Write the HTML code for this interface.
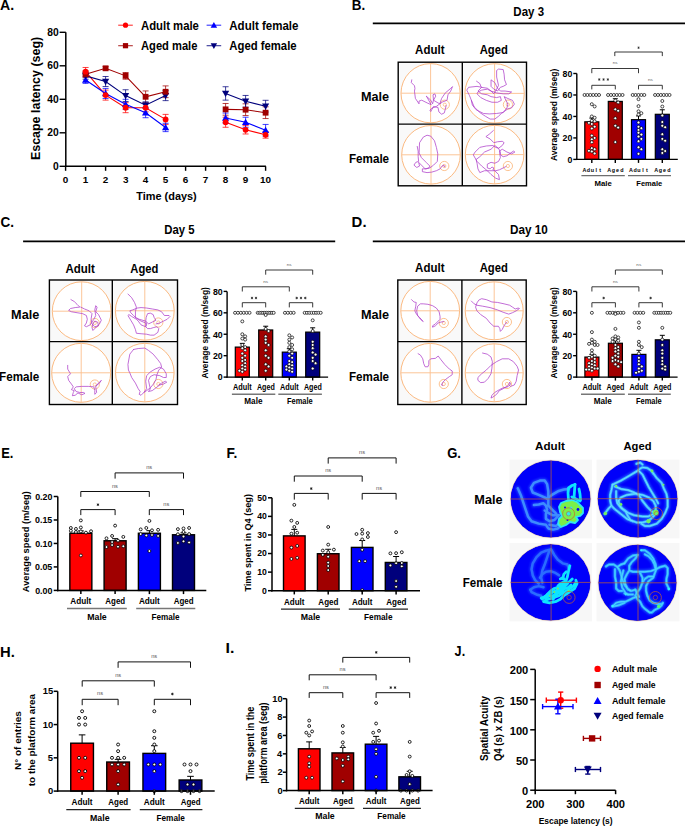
<!DOCTYPE html><html><head><meta charset="utf-8"><style>html,body{margin:0;padding:0;background:#fff;}svg{display:block;font-family:"Liberation Sans",sans-serif;}</style></head><body><svg width="685" height="826" viewBox="0 0 685 826"><rect width="685" height="826" fill="#fff"/><text x="-0.05" y="9.80" font-size="14.80" font-weight="700" textLength="14.14" lengthAdjust="spacingAndGlyphs" fill="#000" >A.</text>
<line x1="65.80" y1="32.30" x2="65.80" y2="167.00" stroke="#000" stroke-width="1.5" />
<line x1="65.10" y1="166.30" x2="265.90" y2="166.30" stroke="#000" stroke-width="1.5" />
<line x1="59.60" y1="166.30" x2="65.80" y2="166.30" stroke="#000" stroke-width="1.4" />
<text x="53.00" y="169.90" font-size="10.30" font-weight="700" textLength="5.73" lengthAdjust="spacingAndGlyphs" fill="#000" >0</text>
<line x1="59.60" y1="132.80" x2="65.80" y2="132.80" stroke="#000" stroke-width="1.4" />
<text x="47.28" y="136.40" font-size="10.30" font-weight="700" textLength="11.46" lengthAdjust="spacingAndGlyphs" fill="#000" >20</text>
<line x1="59.60" y1="99.30" x2="65.80" y2="99.30" stroke="#000" stroke-width="1.4" />
<text x="47.28" y="102.90" font-size="10.30" font-weight="700" textLength="11.46" lengthAdjust="spacingAndGlyphs" fill="#000" >40</text>
<line x1="59.60" y1="65.80" x2="65.80" y2="65.80" stroke="#000" stroke-width="1.4" />
<text x="47.28" y="69.40" font-size="10.30" font-weight="700" textLength="11.46" lengthAdjust="spacingAndGlyphs" fill="#000" >60</text>
<line x1="59.60" y1="32.30" x2="65.80" y2="32.30" stroke="#000" stroke-width="1.4" />
<text x="47.28" y="35.90" font-size="10.30" font-weight="700" textLength="11.46" lengthAdjust="spacingAndGlyphs" fill="#000" >80</text>
<line x1="65.60" y1="166.30" x2="65.60" y2="170.80" stroke="#000" stroke-width="1.4" />
<text x="62.85" y="182.60" font-size="9.90" font-weight="700" textLength="5.51" lengthAdjust="spacingAndGlyphs" fill="#000" >0</text>
<line x1="85.60" y1="166.30" x2="85.60" y2="170.80" stroke="#000" stroke-width="1.4" />
<text x="82.68" y="182.60" font-size="9.90" font-weight="700" textLength="5.51" lengthAdjust="spacingAndGlyphs" fill="#000" >1</text>
<line x1="105.60" y1="166.30" x2="105.60" y2="170.80" stroke="#000" stroke-width="1.4" />
<text x="102.88" y="182.60" font-size="9.90" font-weight="700" textLength="5.51" lengthAdjust="spacingAndGlyphs" fill="#000" >2</text>
<line x1="125.60" y1="166.30" x2="125.60" y2="170.80" stroke="#000" stroke-width="1.4" />
<text x="122.90" y="182.60" font-size="9.90" font-weight="700" textLength="5.51" lengthAdjust="spacingAndGlyphs" fill="#000" >3</text>
<line x1="145.60" y1="166.30" x2="145.60" y2="170.80" stroke="#000" stroke-width="1.4" />
<text x="142.80" y="182.60" font-size="9.90" font-weight="700" textLength="5.51" lengthAdjust="spacingAndGlyphs" fill="#000" >4</text>
<line x1="165.60" y1="166.30" x2="165.60" y2="170.80" stroke="#000" stroke-width="1.4" />
<text x="162.83" y="182.60" font-size="9.90" font-weight="700" textLength="5.51" lengthAdjust="spacingAndGlyphs" fill="#000" >5</text>
<line x1="185.60" y1="166.30" x2="185.60" y2="170.80" stroke="#000" stroke-width="1.4" />
<text x="182.85" y="182.60" font-size="9.90" font-weight="700" textLength="5.51" lengthAdjust="spacingAndGlyphs" fill="#000" >6</text>
<line x1="205.60" y1="166.30" x2="205.60" y2="170.80" stroke="#000" stroke-width="1.4" />
<text x="202.85" y="182.60" font-size="9.90" font-weight="700" textLength="5.51" lengthAdjust="spacingAndGlyphs" fill="#000" >7</text>
<line x1="225.60" y1="166.30" x2="225.60" y2="170.80" stroke="#000" stroke-width="1.4" />
<text x="222.85" y="182.60" font-size="9.90" font-weight="700" textLength="5.51" lengthAdjust="spacingAndGlyphs" fill="#000" >8</text>
<line x1="245.60" y1="166.30" x2="245.60" y2="170.80" stroke="#000" stroke-width="1.4" />
<text x="242.85" y="182.60" font-size="9.90" font-weight="700" textLength="5.51" lengthAdjust="spacingAndGlyphs" fill="#000" >9</text>
<line x1="265.60" y1="166.30" x2="265.60" y2="170.80" stroke="#000" stroke-width="1.4" />
<text x="260.01" y="182.60" font-size="9.90" font-weight="700" textLength="11.01" lengthAdjust="spacingAndGlyphs" fill="#000" >10</text>
<text x="136.29" y="199.90" font-size="11.70" font-weight="700" textLength="60.45" lengthAdjust="spacingAndGlyphs" fill="#000" >Time (days)</text>
<g transform="rotate(-90)"><text x="-160.11" y="39.50" font-size="12.60" font-weight="700" textLength="123.32" lengthAdjust="spacingAndGlyphs" fill="#000" >Escape latency (seg)</text></g>
<line x1="85.60" y1="67.48" x2="85.60" y2="75.85" stroke="#ff0000" stroke-width="1.0" opacity="0.75"/>
<line x1="82.60" y1="67.48" x2="88.60" y2="67.48" stroke="#ff0000" stroke-width="1.0" opacity="0.75"/>
<line x1="82.60" y1="75.85" x2="88.60" y2="75.85" stroke="#ff0000" stroke-width="1.0" opacity="0.75"/>
<line x1="105.60" y1="90.09" x2="105.60" y2="100.14" stroke="#ff0000" stroke-width="1.0" opacity="0.75"/>
<line x1="102.60" y1="90.09" x2="108.60" y2="90.09" stroke="#ff0000" stroke-width="1.0" opacity="0.75"/>
<line x1="102.60" y1="100.14" x2="108.60" y2="100.14" stroke="#ff0000" stroke-width="1.0" opacity="0.75"/>
<line x1="125.60" y1="102.65" x2="125.60" y2="112.70" stroke="#ff0000" stroke-width="1.0" opacity="0.75"/>
<line x1="122.60" y1="102.65" x2="128.60" y2="102.65" stroke="#ff0000" stroke-width="1.0" opacity="0.75"/>
<line x1="122.60" y1="112.70" x2="128.60" y2="112.70" stroke="#ff0000" stroke-width="1.0" opacity="0.75"/>
<line x1="145.60" y1="103.49" x2="145.60" y2="111.86" stroke="#ff0000" stroke-width="1.0" opacity="0.75"/>
<line x1="142.60" y1="103.49" x2="148.60" y2="103.49" stroke="#ff0000" stroke-width="1.0" opacity="0.75"/>
<line x1="142.60" y1="111.86" x2="148.60" y2="111.86" stroke="#ff0000" stroke-width="1.0" opacity="0.75"/>
<line x1="165.60" y1="114.38" x2="165.60" y2="124.43" stroke="#ff0000" stroke-width="1.0" opacity="0.75"/>
<line x1="162.60" y1="114.38" x2="168.60" y2="114.38" stroke="#ff0000" stroke-width="1.0" opacity="0.75"/>
<line x1="162.60" y1="124.43" x2="168.60" y2="124.43" stroke="#ff0000" stroke-width="1.0" opacity="0.75"/>
<line x1="225.60" y1="117.22" x2="225.60" y2="127.27" stroke="#ff0000" stroke-width="1.0" opacity="0.75"/>
<line x1="222.60" y1="117.22" x2="228.60" y2="117.22" stroke="#ff0000" stroke-width="1.0" opacity="0.75"/>
<line x1="222.60" y1="127.27" x2="228.60" y2="127.27" stroke="#ff0000" stroke-width="1.0" opacity="0.75"/>
<line x1="245.60" y1="125.60" x2="245.60" y2="133.97" stroke="#ff0000" stroke-width="1.0" opacity="0.75"/>
<line x1="242.60" y1="125.60" x2="248.60" y2="125.60" stroke="#ff0000" stroke-width="1.0" opacity="0.75"/>
<line x1="242.60" y1="133.97" x2="248.60" y2="133.97" stroke="#ff0000" stroke-width="1.0" opacity="0.75"/>
<line x1="265.60" y1="131.46" x2="265.60" y2="138.16" stroke="#ff0000" stroke-width="1.0" opacity="0.75"/>
<line x1="262.60" y1="131.46" x2="268.60" y2="131.46" stroke="#ff0000" stroke-width="1.0" opacity="0.75"/>
<line x1="262.60" y1="138.16" x2="268.60" y2="138.16" stroke="#ff0000" stroke-width="1.0" opacity="0.75"/>
<polyline points="85.60,71.66 105.60,95.11 125.60,107.68 145.60,107.68 165.60,119.40" fill="none" stroke="#ff0000" stroke-width="1.1" />
<polyline points="225.60,122.25 245.60,129.79 265.60,134.81" fill="none" stroke="#ff0000" stroke-width="1.1" />
<line x1="85.60" y1="70.83" x2="85.60" y2="77.53" stroke="#a00000" stroke-width="1.0" opacity="0.75"/>
<line x1="82.60" y1="70.83" x2="88.60" y2="70.83" stroke="#a00000" stroke-width="1.0" opacity="0.75"/>
<line x1="82.60" y1="77.53" x2="88.60" y2="77.53" stroke="#a00000" stroke-width="1.0" opacity="0.75"/>
<line x1="105.60" y1="66.64" x2="105.60" y2="69.99" stroke="#a00000" stroke-width="1.0" opacity="0.75"/>
<line x1="102.60" y1="66.64" x2="108.60" y2="66.64" stroke="#a00000" stroke-width="1.0" opacity="0.75"/>
<line x1="102.60" y1="69.99" x2="108.60" y2="69.99" stroke="#a00000" stroke-width="1.0" opacity="0.75"/>
<line x1="125.60" y1="72.50" x2="125.60" y2="79.20" stroke="#a00000" stroke-width="1.0" opacity="0.75"/>
<line x1="122.60" y1="72.50" x2="128.60" y2="72.50" stroke="#a00000" stroke-width="1.0" opacity="0.75"/>
<line x1="122.60" y1="79.20" x2="128.60" y2="79.20" stroke="#a00000" stroke-width="1.0" opacity="0.75"/>
<line x1="145.60" y1="90.93" x2="145.60" y2="102.65" stroke="#a00000" stroke-width="1.0" opacity="0.75"/>
<line x1="142.60" y1="90.93" x2="148.60" y2="90.93" stroke="#a00000" stroke-width="1.0" opacity="0.75"/>
<line x1="142.60" y1="102.65" x2="148.60" y2="102.65" stroke="#a00000" stroke-width="1.0" opacity="0.75"/>
<line x1="165.60" y1="85.90" x2="165.60" y2="97.63" stroke="#a00000" stroke-width="1.0" opacity="0.75"/>
<line x1="162.60" y1="85.90" x2="168.60" y2="85.90" stroke="#a00000" stroke-width="1.0" opacity="0.75"/>
<line x1="162.60" y1="97.63" x2="168.60" y2="97.63" stroke="#a00000" stroke-width="1.0" opacity="0.75"/>
<line x1="225.60" y1="103.49" x2="225.60" y2="115.21" stroke="#a00000" stroke-width="1.0" opacity="0.75"/>
<line x1="222.60" y1="103.49" x2="228.60" y2="103.49" stroke="#a00000" stroke-width="1.0" opacity="0.75"/>
<line x1="222.60" y1="115.21" x2="228.60" y2="115.21" stroke="#a00000" stroke-width="1.0" opacity="0.75"/>
<line x1="245.60" y1="103.82" x2="245.60" y2="115.55" stroke="#a00000" stroke-width="1.0" opacity="0.75"/>
<line x1="242.60" y1="103.82" x2="248.60" y2="103.82" stroke="#a00000" stroke-width="1.0" opacity="0.75"/>
<line x1="242.60" y1="115.55" x2="248.60" y2="115.55" stroke="#a00000" stroke-width="1.0" opacity="0.75"/>
<line x1="265.60" y1="106.84" x2="265.60" y2="118.56" stroke="#a00000" stroke-width="1.0" opacity="0.75"/>
<line x1="262.60" y1="106.84" x2="268.60" y2="106.84" stroke="#a00000" stroke-width="1.0" opacity="0.75"/>
<line x1="262.60" y1="118.56" x2="268.60" y2="118.56" stroke="#a00000" stroke-width="1.0" opacity="0.75"/>
<polyline points="85.60,74.18 105.60,68.31 125.60,75.85 145.60,96.79 165.60,91.76" fill="none" stroke="#a00000" stroke-width="1.1" />
<polyline points="225.60,109.35 245.60,109.69 265.60,112.70" fill="none" stroke="#a00000" stroke-width="1.1" />
<line x1="85.60" y1="76.69" x2="85.60" y2="83.39" stroke="#0000ff" stroke-width="1.0" opacity="0.75"/>
<line x1="82.60" y1="76.69" x2="88.60" y2="76.69" stroke="#0000ff" stroke-width="1.0" opacity="0.75"/>
<line x1="82.60" y1="83.39" x2="88.60" y2="83.39" stroke="#0000ff" stroke-width="1.0" opacity="0.75"/>
<line x1="105.60" y1="88.41" x2="105.60" y2="98.46" stroke="#0000ff" stroke-width="1.0" opacity="0.75"/>
<line x1="102.60" y1="88.41" x2="108.60" y2="88.41" stroke="#0000ff" stroke-width="1.0" opacity="0.75"/>
<line x1="102.60" y1="98.46" x2="108.60" y2="98.46" stroke="#0000ff" stroke-width="1.0" opacity="0.75"/>
<line x1="125.60" y1="99.30" x2="125.60" y2="109.35" stroke="#0000ff" stroke-width="1.0" opacity="0.75"/>
<line x1="122.60" y1="99.30" x2="128.60" y2="99.30" stroke="#0000ff" stroke-width="1.0" opacity="0.75"/>
<line x1="122.60" y1="109.35" x2="128.60" y2="109.35" stroke="#0000ff" stroke-width="1.0" opacity="0.75"/>
<line x1="145.60" y1="107.68" x2="145.60" y2="117.73" stroke="#0000ff" stroke-width="1.0" opacity="0.75"/>
<line x1="142.60" y1="107.68" x2="148.60" y2="107.68" stroke="#0000ff" stroke-width="1.0" opacity="0.75"/>
<line x1="142.60" y1="117.73" x2="148.60" y2="117.73" stroke="#0000ff" stroke-width="1.0" opacity="0.75"/>
<line x1="165.60" y1="123.25" x2="165.60" y2="131.63" stroke="#0000ff" stroke-width="1.0" opacity="0.75"/>
<line x1="162.60" y1="123.25" x2="168.60" y2="123.25" stroke="#0000ff" stroke-width="1.0" opacity="0.75"/>
<line x1="162.60" y1="131.63" x2="168.60" y2="131.63" stroke="#0000ff" stroke-width="1.0" opacity="0.75"/>
<line x1="225.60" y1="113.04" x2="225.60" y2="123.09" stroke="#0000ff" stroke-width="1.0" opacity="0.75"/>
<line x1="222.60" y1="113.04" x2="228.60" y2="113.04" stroke="#0000ff" stroke-width="1.0" opacity="0.75"/>
<line x1="222.60" y1="123.09" x2="228.60" y2="123.09" stroke="#0000ff" stroke-width="1.0" opacity="0.75"/>
<line x1="245.60" y1="117.22" x2="245.60" y2="127.27" stroke="#0000ff" stroke-width="1.0" opacity="0.75"/>
<line x1="242.60" y1="117.22" x2="248.60" y2="117.22" stroke="#0000ff" stroke-width="1.0" opacity="0.75"/>
<line x1="242.60" y1="127.27" x2="248.60" y2="127.27" stroke="#0000ff" stroke-width="1.0" opacity="0.75"/>
<line x1="265.60" y1="124.43" x2="265.60" y2="136.15" stroke="#0000ff" stroke-width="1.0" opacity="0.75"/>
<line x1="262.60" y1="124.43" x2="268.60" y2="124.43" stroke="#0000ff" stroke-width="1.0" opacity="0.75"/>
<line x1="262.60" y1="136.15" x2="268.60" y2="136.15" stroke="#0000ff" stroke-width="1.0" opacity="0.75"/>
<polyline points="85.60,80.04 105.60,93.44 125.60,104.33 145.60,112.70 165.60,127.44" fill="none" stroke="#0000ff" stroke-width="1.1" />
<polyline points="225.60,118.06 245.60,122.25 265.60,130.29" fill="none" stroke="#0000ff" stroke-width="1.1" />
<line x1="85.60" y1="72.50" x2="85.60" y2="79.20" stroke="#00007c" stroke-width="1.0" opacity="0.75"/>
<line x1="82.60" y1="72.50" x2="88.60" y2="72.50" stroke="#00007c" stroke-width="1.0" opacity="0.75"/>
<line x1="82.60" y1="79.20" x2="88.60" y2="79.20" stroke="#00007c" stroke-width="1.0" opacity="0.75"/>
<line x1="105.60" y1="76.52" x2="105.60" y2="86.57" stroke="#00007c" stroke-width="1.0" opacity="0.75"/>
<line x1="102.60" y1="76.52" x2="108.60" y2="76.52" stroke="#00007c" stroke-width="1.0" opacity="0.75"/>
<line x1="102.60" y1="86.57" x2="108.60" y2="86.57" stroke="#00007c" stroke-width="1.0" opacity="0.75"/>
<line x1="125.60" y1="89.75" x2="125.60" y2="101.48" stroke="#00007c" stroke-width="1.0" opacity="0.75"/>
<line x1="122.60" y1="89.75" x2="128.60" y2="89.75" stroke="#00007c" stroke-width="1.0" opacity="0.75"/>
<line x1="122.60" y1="101.48" x2="128.60" y2="101.48" stroke="#00007c" stroke-width="1.0" opacity="0.75"/>
<line x1="145.60" y1="101.81" x2="145.60" y2="108.51" stroke="#00007c" stroke-width="1.0" opacity="0.75"/>
<line x1="142.60" y1="101.81" x2="148.60" y2="101.81" stroke="#00007c" stroke-width="1.0" opacity="0.75"/>
<line x1="142.60" y1="108.51" x2="148.60" y2="108.51" stroke="#00007c" stroke-width="1.0" opacity="0.75"/>
<line x1="165.60" y1="90.59" x2="165.60" y2="100.64" stroke="#00007c" stroke-width="1.0" opacity="0.75"/>
<line x1="162.60" y1="90.59" x2="168.60" y2="90.59" stroke="#00007c" stroke-width="1.0" opacity="0.75"/>
<line x1="162.60" y1="100.64" x2="168.60" y2="100.64" stroke="#00007c" stroke-width="1.0" opacity="0.75"/>
<line x1="225.60" y1="86.74" x2="225.60" y2="100.14" stroke="#00007c" stroke-width="1.0" opacity="0.75"/>
<line x1="222.60" y1="86.74" x2="228.60" y2="86.74" stroke="#00007c" stroke-width="1.0" opacity="0.75"/>
<line x1="222.60" y1="100.14" x2="228.60" y2="100.14" stroke="#00007c" stroke-width="1.0" opacity="0.75"/>
<line x1="245.60" y1="95.45" x2="245.60" y2="107.17" stroke="#00007c" stroke-width="1.0" opacity="0.75"/>
<line x1="242.60" y1="95.45" x2="248.60" y2="95.45" stroke="#00007c" stroke-width="1.0" opacity="0.75"/>
<line x1="242.60" y1="107.17" x2="248.60" y2="107.17" stroke="#00007c" stroke-width="1.0" opacity="0.75"/>
<line x1="265.60" y1="100.31" x2="265.60" y2="112.03" stroke="#00007c" stroke-width="1.0" opacity="0.75"/>
<line x1="262.60" y1="100.31" x2="268.60" y2="100.31" stroke="#00007c" stroke-width="1.0" opacity="0.75"/>
<line x1="262.60" y1="112.03" x2="268.60" y2="112.03" stroke="#00007c" stroke-width="1.0" opacity="0.75"/>
<polyline points="85.60,75.85 105.60,81.55 125.60,95.62 145.60,105.16 165.60,95.62" fill="none" stroke="#00007c" stroke-width="1.1" />
<polyline points="225.60,93.44 245.60,101.31 265.60,106.17" fill="none" stroke="#00007c" stroke-width="1.1" />
<polygon points="85.60,76.44 89.20,82.74 82.00,82.74" fill="#0000ff"/>
<polygon points="105.60,89.84 109.20,96.14 102.00,96.14" fill="#0000ff"/>
<polygon points="125.60,100.73 129.20,107.03 122.00,107.03" fill="#0000ff"/>
<polygon points="145.60,109.10 149.20,115.40 142.00,115.40" fill="#0000ff"/>
<polygon points="165.60,123.84 169.20,130.14 162.00,130.14" fill="#0000ff"/>
<polygon points="225.60,114.46 229.20,120.76 222.00,120.76" fill="#0000ff"/>
<polygon points="245.60,118.65 249.20,124.95 242.00,124.95" fill="#0000ff"/>
<polygon points="265.60,126.69 269.20,132.99 262.00,132.99" fill="#0000ff"/>
<polygon points="85.60,79.45 89.20,73.15 82.00,73.15" fill="#00007c"/>
<polygon points="105.60,85.14 109.20,78.84 102.00,78.84" fill="#00007c"/>
<polygon points="125.60,99.22 129.20,92.92 122.00,92.92" fill="#00007c"/>
<polygon points="145.60,108.76 149.20,102.46 142.00,102.46" fill="#00007c"/>
<polygon points="165.60,99.22 169.20,92.92 162.00,92.92" fill="#00007c"/>
<polygon points="225.60,97.04 229.20,90.74 222.00,90.74" fill="#00007c"/>
<polygon points="245.60,104.91 249.20,98.61 242.00,98.61" fill="#00007c"/>
<polygon points="265.60,109.77 269.20,103.47 262.00,103.47" fill="#00007c"/>
<rect x="82.70" y="71.28" width="5.80" height="5.80" fill="#a00000"/>
<rect x="102.70" y="65.41" width="5.80" height="5.80" fill="#a00000"/>
<rect x="122.70" y="72.95" width="5.80" height="5.80" fill="#a00000"/>
<rect x="142.70" y="93.89" width="5.80" height="5.80" fill="#a00000"/>
<rect x="162.70" y="88.86" width="5.80" height="5.80" fill="#a00000"/>
<rect x="222.70" y="106.45" width="5.80" height="5.80" fill="#a00000"/>
<rect x="242.70" y="106.79" width="5.80" height="5.80" fill="#a00000"/>
<rect x="262.70" y="109.80" width="5.80" height="5.80" fill="#a00000"/>
<circle cx="85.60" cy="71.66" r="2.90" fill="#ff0000"/>
<circle cx="105.60" cy="95.11" r="2.90" fill="#ff0000"/>
<circle cx="125.60" cy="107.68" r="2.90" fill="#ff0000"/>
<circle cx="145.60" cy="107.68" r="2.90" fill="#ff0000"/>
<circle cx="165.60" cy="119.40" r="2.90" fill="#ff0000"/>
<circle cx="225.60" cy="122.25" r="2.90" fill="#ff0000"/>
<circle cx="245.60" cy="129.79" r="2.90" fill="#ff0000"/>
<circle cx="265.60" cy="134.81" r="2.90" fill="#ff0000"/>
<line x1="118.20" y1="25.20" x2="132.80" y2="25.20" stroke="#ff0000" stroke-width="1.1" opacity="0.8"/>
<circle cx="125.50" cy="25.20" r="2.61" fill="#ff0000"/>
<text x="141.02" y="29.60" font-size="12.30" font-weight="700" textLength="57.90" lengthAdjust="spacingAndGlyphs" fill="#000" >Adult male</text>
<line x1="118.20" y1="45.70" x2="132.80" y2="45.70" stroke="#a00000" stroke-width="1.1" opacity="0.8"/>
<rect x="122.89" y="43.09" width="5.22" height="5.22" fill="#a00000"/>
<text x="141.02" y="50.00" font-size="12.30" font-weight="700" textLength="56.39" lengthAdjust="spacingAndGlyphs" fill="#000" >Aged male</text>
<line x1="206.60" y1="25.20" x2="221.20" y2="25.20" stroke="#0000ff" stroke-width="1.1" opacity="0.8"/>
<polygon points="213.90,21.96 217.14,27.63 210.66,27.63" fill="#0000ff"/>
<text x="229.31" y="29.60" font-size="12.30" font-weight="700" textLength="69.10" lengthAdjust="spacingAndGlyphs" fill="#000" >Adult female</text>
<line x1="206.60" y1="45.70" x2="221.20" y2="45.70" stroke="#00007c" stroke-width="1.1" opacity="0.8"/>
<polygon points="213.90,48.94 217.14,43.27 210.66,43.27" fill="#00007c"/>
<text x="229.32" y="50.00" font-size="12.30" font-weight="700" textLength="67.29" lengthAdjust="spacingAndGlyphs" fill="#000" >Aged female</text>
<text x="351.83" y="10.10" font-size="14.80" font-weight="700" textLength="13.41" lengthAdjust="spacingAndGlyphs" fill="#000" >B.</text>
<text x="513.35" y="16.00" font-size="12.30" font-weight="700" textLength="30.69" lengthAdjust="spacingAndGlyphs" fill="#000" >Day 3</text>
<line x1="372.80" y1="23.30" x2="685.00" y2="23.30" stroke="#000" stroke-width="1.8" />
<text x="415.11" y="54.40" font-size="11.90" font-weight="700" textLength="29.36" lengthAdjust="spacingAndGlyphs" fill="#000" >Adult</text>
<text x="479.72" y="54.40" font-size="11.90" font-weight="700" textLength="28.11" lengthAdjust="spacingAndGlyphs" fill="#000" >Aged</text>
<text x="360.98" y="101.20" font-size="12.30" font-weight="700" textLength="28.21" lengthAdjust="spacingAndGlyphs" fill="#000" >Male</text>
<text x="348.94" y="163.00" font-size="12.30" font-weight="700" textLength="40.18" lengthAdjust="spacingAndGlyphs" fill="#000" >Female</text>
<rect x="399.40" y="63.40" width="61.70" height="59.50" fill="#f9f9f9"/>
<rect x="463.50" y="63.40" width="61.80" height="59.50" fill="#f9f9f9"/>
<rect x="399.40" y="125.30" width="61.70" height="59.30" fill="#f9f9f9"/>
<rect x="463.50" y="125.30" width="61.80" height="59.30" fill="#f9f9f9"/>
<circle cx="430.60" cy="93.20" r="29.60" fill="#fff" stroke="#fbb274" stroke-width="0.9"/>
<line x1="401.00" y1="93.20" x2="460.20" y2="93.20" stroke="#fcc08c" stroke-width="0.9" />
<line x1="430.60" y1="63.60" x2="430.60" y2="122.80" stroke="#fcc08c" stroke-width="0.9" />
<circle cx="444.80" cy="104.70" r="4.6" fill="none" stroke="#fbb274" stroke-width="0.8"/>
<circle cx="444.80" cy="104.70" r="1.6" fill="none" stroke="#fbb274" stroke-width="0.7"/>
<polyline points="411.76,79.84 411.31,82.55 414.48,85.72 414.93,88.43 414.48,91.15 415.38,98.39 419.00,103.82 419.00,101.10 421.72,100.20 427.15,102.91 431.22,104.72 427.15,97.48 426.24,96.13 430.77,100.20 432.58,103.82 433.48,100.20 433.03,94.77 434.84,93.86 435.75,96.13 433.48,100.20 438.01,102.91 439.82,103.82 441.63,98.39 445.25,92.96 450.68,88.43 452.49,86.62 450.68,91.15 447.96,94.77 447.06,100.20 442.53,102.01 439.82,103.82 436.20,106.53 431.67,108.34 429.86,110.15 430.77,111.51 433.48,106.53 438.01,107.44 438.91,111.96 441.63,114.23 444.34,112.87 445.25,109.25 446.15,105.63" fill="none" stroke="#ad3dca" stroke-width="0.75" stroke-linejoin="round" stroke-linecap="round"/>
<circle cx="494.60" cy="93.40" r="29.70" fill="#fff" stroke="#fbb274" stroke-width="0.9"/>
<line x1="464.90" y1="93.40" x2="524.30" y2="93.40" stroke="#fcc08c" stroke-width="0.9" />
<line x1="494.60" y1="63.70" x2="494.60" y2="123.10" stroke="#fcc08c" stroke-width="0.9" />
<circle cx="507.90" cy="104.60" r="4.6" fill="none" stroke="#fbb274" stroke-width="0.8"/>
<circle cx="507.90" cy="104.60" r="1.6" fill="none" stroke="#fbb274" stroke-width="0.7"/>
<polyline points="476.55,81.22 479.82,83.56 481.22,87.30 487.30,88.23 491.04,91.04 493.84,93.84 496.64,89.17 498.51,85.43 496.64,77.02 496.64,70.48 498.51,69.07 503.19,69.54 504.12,74.21 504.59,79.82 506.46,84.50 503.19,86.36 500.38,87.30 497.58,91.04 493.84,89.17 491.04,86.36 491.04,79.82 494.78,82.63 497.58,88.23 500.38,91.04 505.06,91.04 511.60,91.97 508.79,93.84 503.19,93.84 496.64,92.91 491.04,91.04 487.30,89.17 481.69,90.10 477.95,91.97 477.02,93.84 480.76,97.58 486.36,100.38 491.97,102.25 497.58,102.25 501.32,100.38 500.38,96.64 496.64,97.58 491.04,96.64 487.30,94.78 481.69,93.84 477.95,91.04 481.69,87.30 477.02,86.36 468.61,87.30 466.74,90.10 469.54,95.71 471.41,100.38 474.21,106.93 479.82,112.53 485.43,116.27 490.10,119.07 494.78,119.07 498.51,116.27 501.32,113.47 504.12,111.60 507.86,108.79 511.60,107.86 514.40,104.12 512.53,100.38 507.86,98.51 504.12,96.64 507.86,104.12 506.93,107.86 503.19,112.53 496.64,113.47 489.17,113.93 483.56,113.47 476.08,109.73 472.35,105.06 471.41,100.38" fill="none" stroke="#ad3dca" stroke-width="0.75" stroke-linejoin="round" stroke-linecap="round"/>
<circle cx="431.00" cy="154.80" r="29.30" fill="#fff" stroke="#fbb274" stroke-width="0.9"/>
<line x1="401.70" y1="154.80" x2="460.30" y2="154.80" stroke="#fcc08c" stroke-width="0.9" />
<line x1="431.00" y1="125.50" x2="431.00" y2="184.10" stroke="#fcc08c" stroke-width="0.9" />
<circle cx="444.30" cy="166.00" r="4.6" fill="none" stroke="#fbb274" stroke-width="0.8"/>
<circle cx="444.30" cy="166.00" r="1.6" fill="none" stroke="#fbb274" stroke-width="0.7"/>
<polyline points="417.22,146.43 418.16,151.10 418.16,156.71 418.63,161.38 415.82,162.32 413.95,165.12 416.76,167.46 419.56,166.06 418.63,162.32 421.43,165.12 425.17,168.86 428.91,167.93 429.84,166.06 426.10,162.32 421.43,157.64 419.09,152.97 419.56,142.69 423.30,137.08 427.04,135.21 430.78,136.15 434.51,140.82 436.38,147.36 437.79,153.91 437.32,161.38 433.58,165.12 429.84,167.93 426.10,168.86 422.36,168.86 422.36,171.66 427.04,172.60 431.71,172.13 436.38,170.73 440.12,168.86 441.99,166.06 443.86,165.12 444.79,166.99" fill="none" stroke="#ad3dca" stroke-width="0.75" stroke-linejoin="round" stroke-linecap="round"/>
<circle cx="494.60" cy="154.60" r="29.30" fill="#fff" stroke="#fbb274" stroke-width="0.9"/>
<line x1="465.30" y1="154.60" x2="523.90" y2="154.60" stroke="#fcc08c" stroke-width="0.9" />
<line x1="494.60" y1="125.30" x2="494.60" y2="183.90" stroke="#fcc08c" stroke-width="0.9" />
<circle cx="507.90" cy="166.00" r="4.6" fill="none" stroke="#fbb274" stroke-width="0.8"/>
<circle cx="507.90" cy="166.00" r="1.6" fill="none" stroke="#fbb274" stroke-width="0.7"/>
<polyline points="493.37,130.54 489.17,134.28 485.90,136.62 490.10,138.95 493.84,142.69 497.58,141.76 502.25,141.29 504.12,142.69 502.25,145.50 498.51,148.30 495.71,147.36 492.91,145.50 486.36,145.96 479.82,147.36 475.15,152.04 473.28,154.84 477.02,161.38 481.69,166.06 487.30,170.73 491.04,174.47 495.71,178.21 499.45,179.61 498.51,174.47 494.78,170.73 489.17,170.73 484.50,170.73 479.82,172.60 477.95,168.86 477.02,163.25 476.08,159.51 479.82,156.71 484.50,152.04 491.04,149.23 494.78,145.50 498.51,148.30 500.38,152.04 500.38,154.84 503.19,156.71 506.93,155.78 510.66,152.97 513.47,151.10 514.87,152.04 511.60,153.91 506.93,152.04 502.25,149.23 499.45,151.10 500.38,157.64 498.51,161.38 494.78,163.25 491.04,162.32 487.30,164.19 487.30,167.93 490.10,168.86 491.97,166.99 493.84,167.93 492.91,169.79 495.71,170.73 499.45,169.79 503.19,167.93 505.99,166.52" fill="none" stroke="#ad3dca" stroke-width="0.75" stroke-linejoin="round" stroke-linecap="round"/>
<rect x="398.20" y="62.20" width="128.30" height="123.60" fill="none" stroke="#000" stroke-width="1.4"/>
<line x1="462.30" y1="62.20" x2="462.30" y2="185.80" stroke="#000" stroke-width="1.4" />
<line x1="398.20" y1="124.10" x2="526.50" y2="124.10" stroke="#000" stroke-width="1.4" />
<rect x="584.80" y="121.82" width="14.00" height="37.58" fill="#ff0000" stroke="#000" stroke-width="1.2"/>
<rect x="608.30" y="101.42" width="14.00" height="57.98" fill="#a00000" stroke="#000" stroke-width="1.2"/>
<rect x="631.50" y="119.67" width="14.00" height="39.73" fill="#0000ff" stroke="#000" stroke-width="1.2"/>
<rect x="655.30" y="114.30" width="14.00" height="45.10" fill="#00007c" stroke="#000" stroke-width="1.2"/>
<line x1="591.80" y1="121.82" x2="591.80" y2="118.06" stroke="#000" stroke-width="1.0" />
<line x1="589.30" y1="118.06" x2="594.30" y2="118.06" stroke="#000" stroke-width="1.0" />
<line x1="615.30" y1="101.42" x2="615.30" y2="98.73" stroke="#000" stroke-width="1.0" />
<line x1="612.80" y1="98.73" x2="617.80" y2="98.73" stroke="#000" stroke-width="1.0" />
<line x1="638.50" y1="119.67" x2="638.50" y2="115.91" stroke="#000" stroke-width="1.0" />
<line x1="636.00" y1="115.91" x2="641.00" y2="115.91" stroke="#000" stroke-width="1.0" />
<line x1="662.30" y1="114.30" x2="662.30" y2="109.79" stroke="#000" stroke-width="1.0" />
<line x1="659.80" y1="109.79" x2="664.80" y2="109.79" stroke="#000" stroke-width="1.0" />
<circle cx="584.55" cy="94.98" r="1.50" fill="#fff" stroke="#000" stroke-width="0.7"/>
<circle cx="587.45" cy="94.98" r="1.50" fill="#fff" stroke="#000" stroke-width="0.7"/>
<circle cx="590.35" cy="94.98" r="1.50" fill="#fff" stroke="#000" stroke-width="0.7"/>
<circle cx="593.25" cy="94.98" r="1.50" fill="#fff" stroke="#000" stroke-width="0.7"/>
<circle cx="596.15" cy="94.98" r="1.50" fill="#fff" stroke="#000" stroke-width="0.7"/>
<circle cx="599.05" cy="94.98" r="1.50" fill="#fff" stroke="#000" stroke-width="0.7"/>
<circle cx="591.80" cy="104.21" r="1.50" fill="#fff" stroke="#000" stroke-width="0.7"/>
<circle cx="594.65" cy="106.46" r="1.50" fill="#fff" stroke="#000" stroke-width="0.7"/>
<circle cx="591.80" cy="116.45" r="1.50" fill="#fff" stroke="#000" stroke-width="0.7"/>
<circle cx="594.65" cy="117.74" r="1.50" fill="#fff" stroke="#000" stroke-width="0.7"/>
<circle cx="591.80" cy="120.75" r="1.50" fill="#fff" stroke="#000" stroke-width="0.7"/>
<circle cx="594.65" cy="121.28" r="1.50" fill="#fff" stroke="#000" stroke-width="0.7"/>
<circle cx="588.95" cy="122.89" r="1.50" fill="#fff" stroke="#000" stroke-width="0.7"/>
<circle cx="591.80" cy="123.97" r="1.50" fill="#fff" stroke="#000" stroke-width="0.7"/>
<circle cx="594.65" cy="126.65" r="1.50" fill="#fff" stroke="#000" stroke-width="0.7"/>
<circle cx="591.80" cy="128.48" r="1.50" fill="#fff" stroke="#000" stroke-width="0.7"/>
<circle cx="591.80" cy="135.56" r="1.50" fill="#fff" stroke="#000" stroke-width="0.7"/>
<circle cx="594.65" cy="137.93" r="1.50" fill="#fff" stroke="#000" stroke-width="0.7"/>
<circle cx="591.80" cy="139.32" r="1.50" fill="#fff" stroke="#000" stroke-width="0.7"/>
<circle cx="591.80" cy="142.22" r="1.50" fill="#fff" stroke="#000" stroke-width="0.7"/>
<circle cx="591.80" cy="148.13" r="1.50" fill="#fff" stroke="#000" stroke-width="0.7"/>
<circle cx="594.65" cy="149.20" r="1.50" fill="#fff" stroke="#000" stroke-width="0.7"/>
<circle cx="588.95" cy="150.81" r="1.50" fill="#fff" stroke="#000" stroke-width="0.7"/>
<circle cx="591.80" cy="151.45" r="1.50" fill="#fff" stroke="#000" stroke-width="0.7"/>
<circle cx="594.65" cy="153.39" r="1.50" fill="#fff" stroke="#000" stroke-width="0.7"/>
<circle cx="608.05" cy="94.98" r="1.50" fill="#fff" stroke="#000" stroke-width="0.7"/>
<circle cx="610.95" cy="94.98" r="1.50" fill="#fff" stroke="#000" stroke-width="0.7"/>
<circle cx="613.85" cy="94.98" r="1.50" fill="#fff" stroke="#000" stroke-width="0.7"/>
<circle cx="616.75" cy="94.98" r="1.50" fill="#fff" stroke="#000" stroke-width="0.7"/>
<circle cx="619.65" cy="94.98" r="1.50" fill="#fff" stroke="#000" stroke-width="0.7"/>
<circle cx="622.55" cy="94.98" r="1.50" fill="#fff" stroke="#000" stroke-width="0.7"/>
<circle cx="615.30" cy="100.56" r="1.50" fill="#fff" stroke="#000" stroke-width="0.7"/>
<circle cx="618.15" cy="102.38" r="1.50" fill="#fff" stroke="#000" stroke-width="0.7"/>
<circle cx="615.30" cy="109.36" r="1.50" fill="#fff" stroke="#000" stroke-width="0.7"/>
<circle cx="618.15" cy="110.76" r="1.50" fill="#fff" stroke="#000" stroke-width="0.7"/>
<circle cx="615.30" cy="118.28" r="1.50" fill="#fff" stroke="#000" stroke-width="0.7"/>
<circle cx="615.30" cy="125.68" r="1.50" fill="#fff" stroke="#000" stroke-width="0.7"/>
<circle cx="618.15" cy="127.62" r="1.50" fill="#fff" stroke="#000" stroke-width="0.7"/>
<circle cx="615.30" cy="142.11" r="1.50" fill="#fff" stroke="#000" stroke-width="0.7"/>
<circle cx="632.70" cy="94.98" r="1.50" fill="#fff" stroke="#000" stroke-width="0.7"/>
<circle cx="635.60" cy="94.98" r="1.50" fill="#fff" stroke="#000" stroke-width="0.7"/>
<circle cx="638.50" cy="94.98" r="1.50" fill="#fff" stroke="#000" stroke-width="0.7"/>
<circle cx="641.40" cy="94.98" r="1.50" fill="#fff" stroke="#000" stroke-width="0.7"/>
<circle cx="644.30" cy="94.98" r="1.50" fill="#fff" stroke="#000" stroke-width="0.7"/>
<circle cx="638.50" cy="99.16" r="1.50" fill="#fff" stroke="#000" stroke-width="0.7"/>
<circle cx="638.50" cy="106.14" r="1.50" fill="#fff" stroke="#000" stroke-width="0.7"/>
<circle cx="638.50" cy="111.30" r="1.50" fill="#fff" stroke="#000" stroke-width="0.7"/>
<circle cx="641.35" cy="113.23" r="1.50" fill="#fff" stroke="#000" stroke-width="0.7"/>
<circle cx="638.50" cy="114.62" r="1.50" fill="#fff" stroke="#000" stroke-width="0.7"/>
<circle cx="638.50" cy="122.46" r="1.50" fill="#fff" stroke="#000" stroke-width="0.7"/>
<circle cx="638.50" cy="126.76" r="1.50" fill="#fff" stroke="#000" stroke-width="0.7"/>
<circle cx="641.35" cy="128.15" r="1.50" fill="#fff" stroke="#000" stroke-width="0.7"/>
<circle cx="638.50" cy="129.98" r="1.50" fill="#fff" stroke="#000" stroke-width="0.7"/>
<circle cx="638.50" cy="132.77" r="1.50" fill="#fff" stroke="#000" stroke-width="0.7"/>
<circle cx="641.35" cy="134.60" r="1.50" fill="#fff" stroke="#000" stroke-width="0.7"/>
<circle cx="638.50" cy="136.53" r="1.50" fill="#fff" stroke="#000" stroke-width="0.7"/>
<circle cx="641.35" cy="138.89" r="1.50" fill="#fff" stroke="#000" stroke-width="0.7"/>
<circle cx="638.50" cy="141.15" r="1.50" fill="#fff" stroke="#000" stroke-width="0.7"/>
<circle cx="638.50" cy="147.27" r="1.50" fill="#fff" stroke="#000" stroke-width="0.7"/>
<circle cx="641.35" cy="149.20" r="1.50" fill="#fff" stroke="#000" stroke-width="0.7"/>
<circle cx="638.50" cy="153.82" r="1.50" fill="#fff" stroke="#000" stroke-width="0.7"/>
<circle cx="655.05" cy="94.98" r="1.50" fill="#fff" stroke="#000" stroke-width="0.7"/>
<circle cx="657.95" cy="94.98" r="1.50" fill="#fff" stroke="#000" stroke-width="0.7"/>
<circle cx="660.85" cy="94.98" r="1.50" fill="#fff" stroke="#000" stroke-width="0.7"/>
<circle cx="663.75" cy="94.98" r="1.50" fill="#fff" stroke="#000" stroke-width="0.7"/>
<circle cx="666.65" cy="94.98" r="1.50" fill="#fff" stroke="#000" stroke-width="0.7"/>
<circle cx="669.55" cy="94.98" r="1.50" fill="#fff" stroke="#000" stroke-width="0.7"/>
<circle cx="662.30" cy="100.99" r="1.50" fill="#fff" stroke="#000" stroke-width="0.7"/>
<circle cx="662.30" cy="106.57" r="1.50" fill="#fff" stroke="#000" stroke-width="0.7"/>
<circle cx="662.30" cy="115.48" r="1.50" fill="#fff" stroke="#000" stroke-width="0.7"/>
<circle cx="662.30" cy="122.03" r="1.50" fill="#fff" stroke="#000" stroke-width="0.7"/>
<circle cx="662.30" cy="125.79" r="1.50" fill="#fff" stroke="#000" stroke-width="0.7"/>
<circle cx="665.15" cy="127.19" r="1.50" fill="#fff" stroke="#000" stroke-width="0.7"/>
<circle cx="662.30" cy="134.17" r="1.50" fill="#fff" stroke="#000" stroke-width="0.7"/>
<circle cx="662.30" cy="138.89" r="1.50" fill="#fff" stroke="#000" stroke-width="0.7"/>
<circle cx="665.15" cy="140.72" r="1.50" fill="#fff" stroke="#000" stroke-width="0.7"/>
<circle cx="662.30" cy="149.20" r="1.50" fill="#fff" stroke="#000" stroke-width="0.7"/>
<circle cx="665.15" cy="151.02" r="1.50" fill="#fff" stroke="#000" stroke-width="0.7"/>
<circle cx="662.30" cy="152.96" r="1.50" fill="#fff" stroke="#000" stroke-width="0.7"/>
<line x1="576.80" y1="73.50" x2="576.80" y2="160.10" stroke="#000" stroke-width="1.4" />
<line x1="576.10" y1="159.40" x2="677.80" y2="159.40" stroke="#000" stroke-width="1.4" />
<line x1="573.30" y1="159.40" x2="576.80" y2="159.40" stroke="#000" stroke-width="1.4" />
<text x="567.48" y="162.76" font-size="8.20" font-weight="700" textLength="4.88" lengthAdjust="spacingAndGlyphs" fill="#000" >0</text>
<line x1="573.30" y1="137.93" x2="576.80" y2="137.93" stroke="#000" stroke-width="1.4" />
<text x="562.61" y="141.29" font-size="8.20" font-weight="700" textLength="9.76" lengthAdjust="spacingAndGlyphs" fill="#000" >20</text>
<line x1="573.30" y1="116.45" x2="576.80" y2="116.45" stroke="#000" stroke-width="1.4" />
<text x="562.61" y="119.81" font-size="8.20" font-weight="700" textLength="9.76" lengthAdjust="spacingAndGlyphs" fill="#000" >40</text>
<line x1="573.30" y1="94.98" x2="576.80" y2="94.98" stroke="#000" stroke-width="1.4" />
<text x="562.61" y="98.34" font-size="8.20" font-weight="700" textLength="9.76" lengthAdjust="spacingAndGlyphs" fill="#000" >60</text>
<line x1="573.30" y1="73.50" x2="576.80" y2="73.50" stroke="#000" stroke-width="1.4" />
<text x="562.61" y="76.86" font-size="8.20" font-weight="700" textLength="9.76" lengthAdjust="spacingAndGlyphs" fill="#000" >80</text>
<line x1="591.80" y1="159.40" x2="591.80" y2="162.90" stroke="#000" stroke-width="1.4" />
<line x1="615.30" y1="159.40" x2="615.30" y2="162.90" stroke="#000" stroke-width="1.4" />
<line x1="638.50" y1="159.40" x2="638.50" y2="162.90" stroke="#000" stroke-width="1.4" />
<line x1="662.30" y1="159.40" x2="662.30" y2="162.90" stroke="#000" stroke-width="1.4" />
<text x="582.41" y="171.90" font-size="5.40" font-weight="700" fill="#000">A</text><text x="586.74" y="171.90" font-size="5.40" font-weight="700" fill="#000">d</text><text x="590.65" y="171.90" font-size="5.40" font-weight="700" fill="#000">u</text><text x="595.49" y="171.90" font-size="5.40" font-weight="700" fill="#000">l</text><text x="599.32" y="171.90" font-size="5.40" font-weight="700" fill="#000">t</text>
<text x="607.26" y="171.90" font-size="5.40" font-weight="700" fill="#000">A</text><text x="611.84" y="171.90" font-size="5.40" font-weight="700" fill="#000">g</text><text x="616.12" y="171.90" font-size="5.40" font-weight="700" fill="#000">e</text><text x="620.26" y="171.90" font-size="5.40" font-weight="700" fill="#000">d</text>
<text x="629.12" y="171.90" font-size="5.40" font-weight="700" fill="#000">A</text><text x="633.44" y="171.90" font-size="5.40" font-weight="700" fill="#000">d</text><text x="637.35" y="171.90" font-size="5.40" font-weight="700" fill="#000">u</text><text x="642.19" y="171.90" font-size="5.40" font-weight="700" fill="#000">l</text><text x="646.02" y="171.90" font-size="5.40" font-weight="700" fill="#000">t</text>
<text x="654.26" y="171.90" font-size="5.40" font-weight="700" fill="#000">A</text><text x="658.84" y="171.90" font-size="5.40" font-weight="700" fill="#000">g</text><text x="663.12" y="171.90" font-size="5.40" font-weight="700" fill="#000">e</text><text x="667.26" y="171.90" font-size="5.40" font-weight="700" fill="#000">d</text>
<line x1="581.40" y1="175.60" x2="624.80" y2="175.60" stroke="#6e6e6e" stroke-width="1.3" />
<text x="594.54" y="185.80" font-size="8.00" font-weight="700" textLength="17.30" lengthAdjust="spacingAndGlyphs" fill="#000" >Male</text>
<line x1="628.00" y1="175.60" x2="671.00" y2="175.60" stroke="#6e6e6e" stroke-width="1.3" />
<text x="636.31" y="185.80" font-size="8.00" font-weight="700" textLength="25.96" lengthAdjust="spacingAndGlyphs" fill="#000" >Female</text>
<polyline points="591.80,89.40 591.80,85.30 615.30,85.30 615.30,89.40" fill="none" stroke="#222" stroke-width="0.9" stroke-linejoin="miter"/>
<line x1="599.25" y1="78.30" x2="599.25" y2="80.70" stroke="#222" stroke-width="0.72" /><line x1="598.21" y1="78.90" x2="600.29" y2="80.10" stroke="#222" stroke-width="0.72" /><line x1="600.29" y1="78.90" x2="598.21" y2="80.10" stroke="#222" stroke-width="0.72" />
<line x1="603.55" y1="78.30" x2="603.55" y2="80.70" stroke="#222" stroke-width="0.72" /><line x1="602.51" y1="78.90" x2="604.59" y2="80.10" stroke="#222" stroke-width="0.72" /><line x1="604.59" y1="78.90" x2="602.51" y2="80.10" stroke="#222" stroke-width="0.72" />
<line x1="607.85" y1="78.30" x2="607.85" y2="80.70" stroke="#222" stroke-width="0.72" /><line x1="606.81" y1="78.90" x2="608.89" y2="80.10" stroke="#222" stroke-width="0.72" /><line x1="608.89" y1="78.90" x2="606.81" y2="80.10" stroke="#222" stroke-width="0.72" />
<polyline points="638.50,89.40 638.50,85.30 662.30,85.30 662.30,89.40" fill="none" stroke="#222" stroke-width="0.9" stroke-linejoin="miter"/>
<text x="647.90" y="80.94" font-size="4.40" font-weight="400" textLength="4.87" lengthAdjust="spacingAndGlyphs" fill="#666" >ns</text>
<polyline points="591.80,73.20 591.80,68.50 638.50,68.50 638.50,73.20" fill="none" stroke="#222" stroke-width="0.9" stroke-linejoin="miter"/>
<text x="612.65" y="64.44" font-size="4.40" font-weight="400" textLength="4.87" lengthAdjust="spacingAndGlyphs" fill="#666" >ns</text>
<polyline points="614.80,56.10 614.80,52.00 662.30,52.00 662.30,56.10" fill="none" stroke="#222" stroke-width="0.9" stroke-linejoin="miter"/>
<line x1="638.55" y1="46.60" x2="638.55" y2="48.80" stroke="#222" stroke-width="0.7" /><line x1="637.60" y1="47.15" x2="639.50" y2="48.25" stroke="#222" stroke-width="0.7" /><line x1="639.50" y1="47.15" x2="637.60" y2="48.25" stroke="#222" stroke-width="0.7" />
<g transform="rotate(-90)"><text x="-161.01" y="556.90" font-size="9.30" font-weight="700" textLength="92.21" lengthAdjust="spacingAndGlyphs" fill="#000" >Average speed (m/seg)</text></g>
<text x="0.56" y="226.90" font-size="14.80" font-weight="700" textLength="13.48" lengthAdjust="spacingAndGlyphs" fill="#000" >C.</text>
<text x="164.26" y="234.00" font-size="12.30" font-weight="700" textLength="30.26" lengthAdjust="spacingAndGlyphs" fill="#000" >Day 5</text>
<line x1="23.10" y1="241.30" x2="335.20" y2="241.30" stroke="#000" stroke-width="1.8" />
<text x="65.41" y="273.00" font-size="11.90" font-weight="700" textLength="29.36" lengthAdjust="spacingAndGlyphs" fill="#000" >Adult</text>
<text x="130.32" y="273.00" font-size="11.90" font-weight="700" textLength="28.01" lengthAdjust="spacingAndGlyphs" fill="#000" >Aged</text>
<text x="11.08" y="319.40" font-size="12.30" font-weight="700" textLength="28.21" lengthAdjust="spacingAndGlyphs" fill="#000" >Male</text>
<text x="-0.96" y="381.00" font-size="12.30" font-weight="700" textLength="40.18" lengthAdjust="spacingAndGlyphs" fill="#000" >Female</text>
<rect x="50.60" y="281.20" width="60.50" height="59.20" fill="#f9f9f9"/>
<rect x="113.50" y="281.20" width="62.80" height="59.20" fill="#f9f9f9"/>
<rect x="50.60" y="342.80" width="60.50" height="60.50" fill="#f9f9f9"/>
<rect x="113.50" y="342.80" width="62.80" height="60.50" fill="#f9f9f9"/>
<circle cx="81.70" cy="311.20" r="29.40" fill="#fff" stroke="#fbb274" stroke-width="0.9"/>
<line x1="52.30" y1="311.20" x2="111.10" y2="311.20" stroke="#fcc08c" stroke-width="0.9" />
<line x1="81.70" y1="281.80" x2="81.70" y2="340.60" stroke="#fcc08c" stroke-width="0.9" />
<circle cx="94.80" cy="323.00" r="4.6" fill="none" stroke="#fbb274" stroke-width="0.8"/>
<circle cx="94.80" cy="323.00" r="1.6" fill="none" stroke="#fbb274" stroke-width="0.7"/>
<polyline points="70.96,299.63 74.23,301.50 77.04,304.30 79.84,307.10 75.17,307.57 70.50,308.50 68.63,310.37 71.43,311.78 77.04,312.71 82.64,313.64 86.38,315.51 87.32,319.25 86.38,322.99 84.51,325.79 86.38,326.73 90.12,324.86 91.99,322.06 93.86,319.25 95.73,315.51 94.79,309.91 95.73,305.70 97.13,307.10 95.73,311.78 98.53,314.58 101.34,320.19 99.47,323.93 96.66,326.73 92.93,330.47 91.99,327.66 92.93,323.93 94.79,321.12 97.60,322.06 98.53,325.79 94.79,326.73 91.99,323.93 91.06,319.25 91.99,313.64 89.19,310.84 84.51,308.97 80.78,307.10" fill="none" stroke="#ad3dca" stroke-width="0.75" stroke-linejoin="round" stroke-linecap="round"/>
<circle cx="144.80" cy="310.80" r="29.40" fill="#fff" stroke="#fbb274" stroke-width="0.9"/>
<line x1="115.40" y1="310.80" x2="174.20" y2="310.80" stroke="#fcc08c" stroke-width="0.9" />
<line x1="144.80" y1="281.40" x2="144.80" y2="340.20" stroke="#fcc08c" stroke-width="0.9" />
<circle cx="158.30" cy="322.50" r="4.6" fill="none" stroke="#fbb274" stroke-width="0.8"/>
<circle cx="158.30" cy="322.50" r="1.6" fill="none" stroke="#fbb274" stroke-width="0.7"/>
<polyline points="127.95,294.02 131.69,297.76 134.50,302.43 136.36,307.10 135.43,311.78 135.43,317.38 139.17,319.25 145.71,321.12 148.51,323.93 152.25,322.06 155.99,320.19 154.12,317.38 153.19,314.58 150.38,313.18 147.58,313.64 146.18,317.38 145.71,321.12 146.64,324.86 145.71,326.73 141.04,324.86 138.23,321.12 136.36,319.25 131.69,316.45 128.89,314.58 127.95,315.51 130.76,320.19 133.56,324.86 135.43,329.53 136.36,333.27 141.04,333.74 146.64,334.21 150.38,335.14 154.12,335.14 157.86,332.34 158.79,328.60 156.93,326.73 153.19,327.66 150.38,328.60 147.58,328.60 145.71,326.73 145.71,322.99 141.04,321.12 136.36,318.32 133.56,315.51 130.76,312.71 129.82,310.84 132.63,309.91 137.30,308.04 141.04,307.57 146.64,308.04 152.25,308.97 157.86,309.91 161.60,311.78 164.40,315.51 169.07,315.51 170.01,316.45 167.21,319.25 163.47,321.12 159.73,322.99 155.99,323.93" fill="none" stroke="#ad3dca" stroke-width="0.75" stroke-linejoin="round" stroke-linecap="round"/>
<circle cx="81.20" cy="372.80" r="29.50" fill="#fff" stroke="#fbb274" stroke-width="0.9"/>
<line x1="51.70" y1="372.80" x2="110.70" y2="372.80" stroke="#fcc08c" stroke-width="0.9" />
<line x1="81.20" y1="343.30" x2="81.20" y2="402.30" stroke="#fcc08c" stroke-width="0.9" />
<circle cx="94.80" cy="384.50" r="4.6" fill="none" stroke="#fbb274" stroke-width="0.8"/>
<circle cx="94.80" cy="384.50" r="1.6" fill="none" stroke="#fbb274" stroke-width="0.7"/>
<polyline points="67.69,365.36 67.69,369.10 70.50,373.78 67.69,376.58 68.63,380.32 71.43,384.06 73.30,386.86 71.43,389.66 74.23,390.60 73.30,392.47 72.36,395.74 75.17,395.27 77.97,392.93 81.71,394.80 84.98,393.40 83.58,392.47 79.84,392.47 76.10,391.53 74.23,388.73 76.10,386.86 81.71,386.39 88.25,386.39 93.86,386.86 94.79,390.60 94.79,394.34 96.66,392.47 95.73,386.86 97.60,384.06 101.34,380.32 99.47,383.12 95.73,385.93" fill="none" stroke="#ad3dca" stroke-width="0.75" stroke-linejoin="round" stroke-linecap="round"/>
<circle cx="144.80" cy="372.60" r="29.30" fill="#fff" stroke="#fbb274" stroke-width="0.9"/>
<line x1="115.50" y1="372.60" x2="174.10" y2="372.60" stroke="#fcc08c" stroke-width="0.9" />
<line x1="144.80" y1="343.30" x2="144.80" y2="401.90" stroke="#fcc08c" stroke-width="0.9" />
<circle cx="158.30" cy="384.00" r="4.6" fill="none" stroke="#fbb274" stroke-width="0.8"/>
<circle cx="158.30" cy="384.00" r="1.6" fill="none" stroke="#fbb274" stroke-width="0.7"/>
<polyline points="133.56,349.48 138.23,348.54 144.78,348.07 148.51,350.41 153.19,354.15 157.86,359.76 160.66,363.50 161.60,367.23 158.79,370.04 156.93,374.71 155.99,379.38 154.12,383.12 150.38,387.79 146.64,390.60 143.84,392.47 141.04,395.27 139.17,394.34 140.10,391.53 138.23,388.73 135.43,383.12 131.69,377.51 129.82,372.84 128.42,370.04 127.95,364.43 129.82,354.15 133.56,349.48" fill="none" stroke="#ad3dca" stroke-width="0.75" stroke-linejoin="round" stroke-linecap="round"/>
<polyline points="143.84,392.47 146.64,388.73 145.71,381.25 146.64,375.64 150.38,371.91 155.06,369.10 159.73,367.23 163.47,369.10 166.27,373.78 166.27,377.51 163.47,377.51 159.73,375.64 154.12,374.71 150.38,376.58 148.51,380.32 149.45,384.99 150.38,388.73 148.51,391.53 152.25,390.60 155.99,387.79 159.73,384.99 163.47,384.06 166.74,382.19 165.34,381.25 161.60,383.12 158.79,384.99" fill="none" stroke="#ad3dca" stroke-width="0.75" stroke-linejoin="round" stroke-linecap="round"/>
<rect x="49.40" y="280.00" width="128.10" height="124.50" fill="none" stroke="#000" stroke-width="1.4"/>
<line x1="112.30" y1="280.00" x2="112.30" y2="404.50" stroke="#000" stroke-width="1.4" />
<line x1="49.40" y1="341.60" x2="177.50" y2="341.60" stroke="#000" stroke-width="1.4" />
<rect x="235.30" y="347.11" width="14.00" height="30.00" fill="#ff0000" stroke="#000" stroke-width="1.2"/>
<rect x="258.70" y="329.97" width="14.00" height="47.13" fill="#a00000" stroke="#000" stroke-width="1.2"/>
<rect x="282.30" y="352.14" width="14.00" height="24.96" fill="#0000ff" stroke="#000" stroke-width="1.2"/>
<rect x="305.70" y="332.11" width="14.00" height="44.99" fill="#00007c" stroke="#000" stroke-width="1.2"/>
<line x1="242.30" y1="347.11" x2="242.30" y2="343.36" stroke="#000" stroke-width="1.0" />
<line x1="239.80" y1="343.36" x2="244.80" y2="343.36" stroke="#000" stroke-width="1.0" />
<line x1="265.70" y1="329.97" x2="265.70" y2="326.22" stroke="#000" stroke-width="1.0" />
<line x1="263.20" y1="326.22" x2="268.20" y2="326.22" stroke="#000" stroke-width="1.0" />
<line x1="289.30" y1="352.14" x2="289.30" y2="348.71" stroke="#000" stroke-width="1.0" />
<line x1="286.80" y1="348.71" x2="291.80" y2="348.71" stroke="#000" stroke-width="1.0" />
<line x1="312.70" y1="332.11" x2="312.70" y2="327.82" stroke="#000" stroke-width="1.0" />
<line x1="310.20" y1="327.82" x2="315.20" y2="327.82" stroke="#000" stroke-width="1.0" />
<circle cx="235.05" cy="312.82" r="1.50" fill="#fff" stroke="#000" stroke-width="0.7"/>
<circle cx="237.95" cy="312.82" r="1.50" fill="#fff" stroke="#000" stroke-width="0.7"/>
<circle cx="240.85" cy="312.82" r="1.50" fill="#fff" stroke="#000" stroke-width="0.7"/>
<circle cx="243.75" cy="312.82" r="1.50" fill="#fff" stroke="#000" stroke-width="0.7"/>
<circle cx="246.65" cy="312.82" r="1.50" fill="#fff" stroke="#000" stroke-width="0.7"/>
<circle cx="249.55" cy="312.82" r="1.50" fill="#fff" stroke="#000" stroke-width="0.7"/>
<circle cx="242.30" cy="321.39" r="1.50" fill="#fff" stroke="#000" stroke-width="0.7"/>
<circle cx="242.30" cy="334.25" r="1.50" fill="#fff" stroke="#000" stroke-width="0.7"/>
<circle cx="245.15" cy="336.39" r="1.50" fill="#fff" stroke="#000" stroke-width="0.7"/>
<circle cx="242.30" cy="338.54" r="1.50" fill="#fff" stroke="#000" stroke-width="0.7"/>
<circle cx="245.15" cy="339.61" r="1.50" fill="#fff" stroke="#000" stroke-width="0.7"/>
<circle cx="242.30" cy="344.96" r="1.50" fill="#fff" stroke="#000" stroke-width="0.7"/>
<circle cx="245.15" cy="347.11" r="1.50" fill="#fff" stroke="#000" stroke-width="0.7"/>
<circle cx="242.30" cy="348.18" r="1.50" fill="#fff" stroke="#000" stroke-width="0.7"/>
<circle cx="245.15" cy="350.32" r="1.50" fill="#fff" stroke="#000" stroke-width="0.7"/>
<circle cx="242.30" cy="353.53" r="1.50" fill="#fff" stroke="#000" stroke-width="0.7"/>
<circle cx="245.15" cy="355.68" r="1.50" fill="#fff" stroke="#000" stroke-width="0.7"/>
<circle cx="242.30" cy="357.82" r="1.50" fill="#fff" stroke="#000" stroke-width="0.7"/>
<circle cx="245.15" cy="359.96" r="1.50" fill="#fff" stroke="#000" stroke-width="0.7"/>
<circle cx="242.30" cy="361.03" r="1.50" fill="#fff" stroke="#000" stroke-width="0.7"/>
<circle cx="245.15" cy="363.17" r="1.50" fill="#fff" stroke="#000" stroke-width="0.7"/>
<circle cx="242.30" cy="365.32" r="1.50" fill="#fff" stroke="#000" stroke-width="0.7"/>
<circle cx="245.15" cy="366.39" r="1.50" fill="#fff" stroke="#000" stroke-width="0.7"/>
<circle cx="242.30" cy="368.53" r="1.50" fill="#fff" stroke="#000" stroke-width="0.7"/>
<circle cx="245.15" cy="369.60" r="1.50" fill="#fff" stroke="#000" stroke-width="0.7"/>
<circle cx="239.45" cy="370.67" r="1.50" fill="#fff" stroke="#000" stroke-width="0.7"/>
<circle cx="242.30" cy="371.74" r="1.50" fill="#fff" stroke="#000" stroke-width="0.7"/>
<circle cx="257.70" cy="312.82" r="1.50" fill="#fff" stroke="#000" stroke-width="0.7"/>
<circle cx="259.48" cy="312.82" r="1.50" fill="#fff" stroke="#000" stroke-width="0.7"/>
<circle cx="261.26" cy="312.82" r="1.50" fill="#fff" stroke="#000" stroke-width="0.7"/>
<circle cx="263.03" cy="312.82" r="1.50" fill="#fff" stroke="#000" stroke-width="0.7"/>
<circle cx="264.81" cy="312.82" r="1.50" fill="#fff" stroke="#000" stroke-width="0.7"/>
<circle cx="266.59" cy="312.82" r="1.50" fill="#fff" stroke="#000" stroke-width="0.7"/>
<circle cx="268.37" cy="312.82" r="1.50" fill="#fff" stroke="#000" stroke-width="0.7"/>
<circle cx="270.14" cy="312.82" r="1.50" fill="#fff" stroke="#000" stroke-width="0.7"/>
<circle cx="271.92" cy="312.82" r="1.50" fill="#fff" stroke="#000" stroke-width="0.7"/>
<circle cx="273.70" cy="312.82" r="1.50" fill="#fff" stroke="#000" stroke-width="0.7"/>
<circle cx="265.70" cy="314.97" r="1.50" fill="#fff" stroke="#000" stroke-width="0.7"/>
<circle cx="265.70" cy="328.89" r="1.50" fill="#fff" stroke="#000" stroke-width="0.7"/>
<circle cx="268.55" cy="331.04" r="1.50" fill="#fff" stroke="#000" stroke-width="0.7"/>
<circle cx="265.70" cy="336.39" r="1.50" fill="#fff" stroke="#000" stroke-width="0.7"/>
<circle cx="265.70" cy="339.61" r="1.50" fill="#fff" stroke="#000" stroke-width="0.7"/>
<circle cx="265.70" cy="342.82" r="1.50" fill="#fff" stroke="#000" stroke-width="0.7"/>
<circle cx="268.55" cy="344.96" r="1.50" fill="#fff" stroke="#000" stroke-width="0.7"/>
<circle cx="265.70" cy="350.32" r="1.50" fill="#fff" stroke="#000" stroke-width="0.7"/>
<circle cx="265.70" cy="355.68" r="1.50" fill="#fff" stroke="#000" stroke-width="0.7"/>
<circle cx="268.55" cy="357.82" r="1.50" fill="#fff" stroke="#000" stroke-width="0.7"/>
<circle cx="265.70" cy="364.25" r="1.50" fill="#fff" stroke="#000" stroke-width="0.7"/>
<circle cx="268.55" cy="366.39" r="1.50" fill="#fff" stroke="#000" stroke-width="0.7"/>
<circle cx="265.70" cy="370.67" r="1.50" fill="#fff" stroke="#000" stroke-width="0.7"/>
<circle cx="284.95" cy="312.82" r="1.50" fill="#fff" stroke="#000" stroke-width="0.7"/>
<circle cx="287.85" cy="312.82" r="1.50" fill="#fff" stroke="#000" stroke-width="0.7"/>
<circle cx="290.75" cy="312.82" r="1.50" fill="#fff" stroke="#000" stroke-width="0.7"/>
<circle cx="293.65" cy="312.82" r="1.50" fill="#fff" stroke="#000" stroke-width="0.7"/>
<circle cx="289.30" cy="335.32" r="1.50" fill="#fff" stroke="#000" stroke-width="0.7"/>
<circle cx="292.15" cy="337.46" r="1.50" fill="#fff" stroke="#000" stroke-width="0.7"/>
<circle cx="289.30" cy="339.61" r="1.50" fill="#fff" stroke="#000" stroke-width="0.7"/>
<circle cx="289.30" cy="342.82" r="1.50" fill="#fff" stroke="#000" stroke-width="0.7"/>
<circle cx="292.15" cy="344.96" r="1.50" fill="#fff" stroke="#000" stroke-width="0.7"/>
<circle cx="289.30" cy="347.11" r="1.50" fill="#fff" stroke="#000" stroke-width="0.7"/>
<circle cx="292.15" cy="349.25" r="1.50" fill="#fff" stroke="#000" stroke-width="0.7"/>
<circle cx="289.30" cy="351.39" r="1.50" fill="#fff" stroke="#000" stroke-width="0.7"/>
<circle cx="292.15" cy="353.53" r="1.50" fill="#fff" stroke="#000" stroke-width="0.7"/>
<circle cx="289.30" cy="355.68" r="1.50" fill="#fff" stroke="#000" stroke-width="0.7"/>
<circle cx="292.15" cy="357.82" r="1.50" fill="#fff" stroke="#000" stroke-width="0.7"/>
<circle cx="289.30" cy="361.03" r="1.50" fill="#fff" stroke="#000" stroke-width="0.7"/>
<circle cx="292.15" cy="362.10" r="1.50" fill="#fff" stroke="#000" stroke-width="0.7"/>
<circle cx="289.30" cy="364.25" r="1.50" fill="#fff" stroke="#000" stroke-width="0.7"/>
<circle cx="292.15" cy="365.32" r="1.50" fill="#fff" stroke="#000" stroke-width="0.7"/>
<circle cx="286.45" cy="366.39" r="1.50" fill="#fff" stroke="#000" stroke-width="0.7"/>
<circle cx="289.30" cy="367.46" r="1.50" fill="#fff" stroke="#000" stroke-width="0.7"/>
<circle cx="292.15" cy="368.53" r="1.50" fill="#fff" stroke="#000" stroke-width="0.7"/>
<circle cx="286.45" cy="369.60" r="1.50" fill="#fff" stroke="#000" stroke-width="0.7"/>
<circle cx="289.30" cy="370.67" r="1.50" fill="#fff" stroke="#000" stroke-width="0.7"/>
<circle cx="292.15" cy="371.74" r="1.50" fill="#fff" stroke="#000" stroke-width="0.7"/>
<circle cx="304.70" cy="312.82" r="1.50" fill="#fff" stroke="#000" stroke-width="0.7"/>
<circle cx="306.99" cy="312.82" r="1.50" fill="#fff" stroke="#000" stroke-width="0.7"/>
<circle cx="309.27" cy="312.82" r="1.50" fill="#fff" stroke="#000" stroke-width="0.7"/>
<circle cx="311.56" cy="312.82" r="1.50" fill="#fff" stroke="#000" stroke-width="0.7"/>
<circle cx="313.84" cy="312.82" r="1.50" fill="#fff" stroke="#000" stroke-width="0.7"/>
<circle cx="316.13" cy="312.82" r="1.50" fill="#fff" stroke="#000" stroke-width="0.7"/>
<circle cx="318.41" cy="312.82" r="1.50" fill="#fff" stroke="#000" stroke-width="0.7"/>
<circle cx="320.70" cy="312.82" r="1.50" fill="#fff" stroke="#000" stroke-width="0.7"/>
<circle cx="312.70" cy="320.32" r="1.50" fill="#fff" stroke="#000" stroke-width="0.7"/>
<circle cx="312.70" cy="331.04" r="1.50" fill="#fff" stroke="#000" stroke-width="0.7"/>
<circle cx="312.70" cy="341.75" r="1.50" fill="#fff" stroke="#000" stroke-width="0.7"/>
<circle cx="312.70" cy="344.96" r="1.50" fill="#fff" stroke="#000" stroke-width="0.7"/>
<circle cx="312.70" cy="348.18" r="1.50" fill="#fff" stroke="#000" stroke-width="0.7"/>
<circle cx="312.70" cy="352.46" r="1.50" fill="#fff" stroke="#000" stroke-width="0.7"/>
<circle cx="315.55" cy="354.60" r="1.50" fill="#fff" stroke="#000" stroke-width="0.7"/>
<circle cx="312.70" cy="357.82" r="1.50" fill="#fff" stroke="#000" stroke-width="0.7"/>
<circle cx="312.70" cy="361.03" r="1.50" fill="#fff" stroke="#000" stroke-width="0.7"/>
<circle cx="315.55" cy="363.17" r="1.50" fill="#fff" stroke="#000" stroke-width="0.7"/>
<circle cx="312.70" cy="368.53" r="1.50" fill="#fff" stroke="#000" stroke-width="0.7"/>
<line x1="227.10" y1="291.40" x2="227.10" y2="377.80" stroke="#000" stroke-width="1.4" />
<line x1="226.40" y1="377.10" x2="328.10" y2="377.10" stroke="#000" stroke-width="1.4" />
<line x1="223.60" y1="377.10" x2="227.10" y2="377.10" stroke="#000" stroke-width="1.4" />
<text x="217.78" y="380.46" font-size="8.20" font-weight="700" textLength="4.88" lengthAdjust="spacingAndGlyphs" fill="#000" >0</text>
<line x1="223.60" y1="355.68" x2="227.10" y2="355.68" stroke="#000" stroke-width="1.4" />
<text x="212.91" y="359.04" font-size="8.20" font-weight="700" textLength="9.76" lengthAdjust="spacingAndGlyphs" fill="#000" >20</text>
<line x1="223.60" y1="334.25" x2="227.10" y2="334.25" stroke="#000" stroke-width="1.4" />
<text x="212.91" y="337.61" font-size="8.20" font-weight="700" textLength="9.76" lengthAdjust="spacingAndGlyphs" fill="#000" >40</text>
<line x1="223.60" y1="312.82" x2="227.10" y2="312.82" stroke="#000" stroke-width="1.4" />
<text x="212.91" y="316.19" font-size="8.20" font-weight="700" textLength="9.76" lengthAdjust="spacingAndGlyphs" fill="#000" >60</text>
<line x1="223.60" y1="291.40" x2="227.10" y2="291.40" stroke="#000" stroke-width="1.4" />
<text x="212.91" y="294.76" font-size="8.20" font-weight="700" textLength="9.76" lengthAdjust="spacingAndGlyphs" fill="#000" >80</text>
<line x1="242.30" y1="377.10" x2="242.30" y2="380.60" stroke="#000" stroke-width="1.4" />
<line x1="265.70" y1="377.10" x2="265.70" y2="380.60" stroke="#000" stroke-width="1.4" />
<line x1="289.30" y1="377.10" x2="289.30" y2="380.60" stroke="#000" stroke-width="1.4" />
<line x1="312.70" y1="377.10" x2="312.70" y2="380.60" stroke="#000" stroke-width="1.4" />
<text x="232.92" y="389.60" font-size="8.20" font-weight="700" textLength="18.69" lengthAdjust="spacingAndGlyphs" fill="#000" >Adult</text>
<text x="256.92" y="389.60" font-size="8.20" font-weight="700" textLength="17.84" lengthAdjust="spacingAndGlyphs" fill="#000" >Aged</text>
<text x="279.92" y="389.60" font-size="8.20" font-weight="700" textLength="18.69" lengthAdjust="spacingAndGlyphs" fill="#000" >Adult</text>
<text x="303.92" y="389.60" font-size="8.20" font-weight="700" textLength="17.84" lengthAdjust="spacingAndGlyphs" fill="#000" >Aged</text>
<line x1="231.90" y1="394.20" x2="275.30" y2="394.20" stroke="#777" stroke-width="1.5" />
<text x="244.32" y="403.90" font-size="8.20" font-weight="700" textLength="18.14" lengthAdjust="spacingAndGlyphs" fill="#000" >Male</text>
<line x1="278.30" y1="394.20" x2="321.90" y2="394.20" stroke="#777" stroke-width="1.5" />
<text x="286.97" y="403.90" font-size="8.20" font-weight="700" textLength="25.65" lengthAdjust="spacingAndGlyphs" fill="#000" >Female</text>
<polyline points="242.30,307.40 242.30,302.70 265.70,302.70 265.70,307.40" fill="none" stroke="#222" stroke-width="0.9" stroke-linejoin="miter"/>
<line x1="252.00" y1="296.75" x2="252.00" y2="299.25" stroke="#222" stroke-width="0.75" /><line x1="250.92" y1="297.38" x2="253.08" y2="298.62" stroke="#222" stroke-width="0.75" /><line x1="253.08" y1="297.38" x2="250.92" y2="298.62" stroke="#222" stroke-width="0.75" />
<line x1="256.00" y1="296.75" x2="256.00" y2="299.25" stroke="#222" stroke-width="0.75" /><line x1="254.92" y1="297.38" x2="257.08" y2="298.62" stroke="#222" stroke-width="0.75" /><line x1="257.08" y1="297.38" x2="254.92" y2="298.62" stroke="#222" stroke-width="0.75" />
<polyline points="289.30,307.40 289.30,302.70 312.70,302.70 312.70,307.40" fill="none" stroke="#222" stroke-width="0.9" stroke-linejoin="miter"/>
<line x1="296.70" y1="296.75" x2="296.70" y2="299.25" stroke="#222" stroke-width="0.75" /><line x1="295.62" y1="297.38" x2="297.78" y2="298.62" stroke="#222" stroke-width="0.75" /><line x1="297.78" y1="297.38" x2="295.62" y2="298.62" stroke="#222" stroke-width="0.75" />
<line x1="301.00" y1="296.75" x2="301.00" y2="299.25" stroke="#222" stroke-width="0.75" /><line x1="299.92" y1="297.38" x2="302.08" y2="298.62" stroke="#222" stroke-width="0.75" /><line x1="302.08" y1="297.38" x2="299.92" y2="298.62" stroke="#222" stroke-width="0.75" />
<line x1="305.30" y1="296.75" x2="305.30" y2="299.25" stroke="#222" stroke-width="0.75" /><line x1="304.22" y1="297.38" x2="306.38" y2="298.62" stroke="#222" stroke-width="0.75" /><line x1="306.38" y1="297.38" x2="304.22" y2="298.62" stroke="#222" stroke-width="0.75" />
<polyline points="242.30,291.50 242.30,286.80 289.30,286.80 289.30,291.50" fill="none" stroke="#222" stroke-width="0.9" stroke-linejoin="miter"/>
<text x="263.30" y="282.74" font-size="4.40" font-weight="400" textLength="4.87" lengthAdjust="spacingAndGlyphs" fill="#666" >ns</text>
<polyline points="265.70,274.70 265.70,270.00 312.70,270.00 312.70,274.70" fill="none" stroke="#222" stroke-width="0.9" stroke-linejoin="miter"/>
<text x="286.70" y="266.24" font-size="4.40" font-weight="400" textLength="4.87" lengthAdjust="spacingAndGlyphs" fill="#666" >ns</text>
<g transform="rotate(-90)"><text x="-378.61" y="207.70" font-size="8.90" font-weight="700" textLength="91.40" lengthAdjust="spacingAndGlyphs" fill="#000" >Average speed (m/seg)</text></g>
<text x="351.63" y="226.90" font-size="14.80" font-weight="700" textLength="14.91" lengthAdjust="spacingAndGlyphs" fill="#000" >D.</text>
<text x="510.04" y="234.00" font-size="12.30" font-weight="700" textLength="37.72" lengthAdjust="spacingAndGlyphs" fill="#000" >Day 10</text>
<line x1="372.80" y1="241.30" x2="685.00" y2="241.30" stroke="#000" stroke-width="1.8" />
<text x="415.11" y="272.30" font-size="11.90" font-weight="700" textLength="29.36" lengthAdjust="spacingAndGlyphs" fill="#000" >Adult</text>
<text x="479.72" y="272.30" font-size="11.90" font-weight="700" textLength="28.11" lengthAdjust="spacingAndGlyphs" fill="#000" >Aged</text>
<text x="360.98" y="319.40" font-size="12.30" font-weight="700" textLength="28.21" lengthAdjust="spacingAndGlyphs" fill="#000" >Male</text>
<text x="348.94" y="381.00" font-size="12.30" font-weight="700" textLength="40.18" lengthAdjust="spacingAndGlyphs" fill="#000" >Female</text>
<rect x="399.00" y="281.20" width="61.70" height="59.20" fill="#f9f9f9"/>
<rect x="463.10" y="281.20" width="61.90" height="59.20" fill="#f9f9f9"/>
<rect x="399.00" y="342.80" width="61.70" height="60.50" fill="#f9f9f9"/>
<rect x="463.10" y="342.80" width="61.90" height="60.50" fill="#f9f9f9"/>
<circle cx="430.20" cy="310.80" r="29.40" fill="#fff" stroke="#fbb274" stroke-width="0.9"/>
<line x1="400.80" y1="310.80" x2="459.60" y2="310.80" stroke="#fcc08c" stroke-width="0.9" />
<line x1="430.20" y1="281.40" x2="430.20" y2="340.20" stroke="#fcc08c" stroke-width="0.9" />
<circle cx="443.80" cy="323.00" r="4.6" fill="none" stroke="#fbb274" stroke-width="0.8"/>
<circle cx="443.80" cy="323.00" r="1.6" fill="none" stroke="#fbb274" stroke-width="0.7"/>
<polyline points="411.55,299.63 413.89,301.96 416.22,302.43 415.76,306.17 414.82,310.84 416.69,314.58 419.50,317.38 423.23,321.59 420.43,319.25 417.63,315.51 416.69,310.84 417.63,306.17 420.43,303.83 423.23,303.83 427.91,304.30 432.58,305.70 436.32,308.04 439.12,311.78 440.06,316.45 440.06,319.25 437.25,322.06 435.38,323.93 432.58,325.79 432.58,327.20 435.38,325.79 438.19,322.99 440.99,322.06 443.79,321.59" fill="none" stroke="#ad3dca" stroke-width="0.75" stroke-linejoin="round" stroke-linecap="round"/>
<circle cx="494.20" cy="310.80" r="29.00" fill="#fff" stroke="#fbb274" stroke-width="0.9"/>
<line x1="465.20" y1="310.80" x2="523.20" y2="310.80" stroke="#fcc08c" stroke-width="0.9" />
<line x1="494.20" y1="281.80" x2="494.20" y2="339.80" stroke="#fcc08c" stroke-width="0.9" />
<circle cx="506.90" cy="322.00" r="4.6" fill="none" stroke="#fbb274" stroke-width="0.8"/>
<circle cx="506.90" cy="322.00" r="1.6" fill="none" stroke="#fbb274" stroke-width="0.7"/>
<polyline points="471.35,301.03 474.15,303.83 476.95,305.23 482.56,306.17 490.04,307.57 497.51,309.91 503.12,312.24 508.73,314.11 512.47,312.71 516.21,310.84 519.48,308.50 518.07,308.04 515.27,308.97 512.47,307.10 509.66,305.23 504.06,303.83 497.51,302.43 491.91,301.96 486.30,299.63 481.63,298.69 478.82,300.09 476.95,302.90 475.55,307.10 476.95,310.84 480.69,314.58 486.30,318.32 490.04,322.99 493.78,326.26 498.45,326.26 499.85,328.60 500.32,331.40 502.19,329.53 504.06,325.79 505.93,322.99 506.86,322.06" fill="none" stroke="#ad3dca" stroke-width="0.75" stroke-linejoin="round" stroke-linecap="round"/>
<circle cx="430.20" cy="372.80" r="29.40" fill="#fff" stroke="#fbb274" stroke-width="0.9"/>
<line x1="400.80" y1="372.80" x2="459.60" y2="372.80" stroke="#fcc08c" stroke-width="0.9" />
<line x1="430.20" y1="343.40" x2="430.20" y2="402.20" stroke="#fcc08c" stroke-width="0.9" />
<circle cx="443.80" cy="384.00" r="4.6" fill="none" stroke="#fbb274" stroke-width="0.8"/>
<circle cx="443.80" cy="384.00" r="1.6" fill="none" stroke="#fbb274" stroke-width="0.7"/>
<polyline points="418.09,353.68 420.43,355.08 422.77,358.82 423.70,363.50 425.10,366.77 427.91,366.77 428.84,364.43 428.84,360.69 430.71,358.82 435.38,358.36 438.19,356.02 440.99,359.76 444.73,364.43 449.40,369.10 452.21,370.97 452.21,374.71 449.40,376.58 445.66,379.38 442.86,382.19 441.46,384.99 442.86,385.46" fill="none" stroke="#ad3dca" stroke-width="0.75" stroke-linejoin="round" stroke-linecap="round"/>
<circle cx="494.20" cy="372.80" r="29.00" fill="#fff" stroke="#fbb274" stroke-width="0.9"/>
<line x1="465.20" y1="372.80" x2="523.20" y2="372.80" stroke="#fcc08c" stroke-width="0.9" />
<line x1="494.20" y1="343.80" x2="494.20" y2="401.80" stroke="#fcc08c" stroke-width="0.9" />
<circle cx="506.90" cy="384.00" r="4.6" fill="none" stroke="#fbb274" stroke-width="0.8"/>
<circle cx="506.90" cy="384.00" r="1.6" fill="none" stroke="#fbb274" stroke-width="0.7"/>
<polyline points="482.56,353.03 487.23,354.15 490.97,356.95 492.37,361.63 491.91,368.17 490.97,373.78 488.17,378.45 484.43,382.19 480.69,382.65 477.89,380.32 477.89,377.51 481.63,373.78 486.30,370.04 490.97,365.36 496.58,361.63 502.19,358.82 508.73,358.82 513.40,361.63 517.14,366.30 518.54,370.04 517.14,375.64 516.21,381.25 514.34,384.99 510.60,386.39 508.73,384.99 509.66,382.19 510.60,384.06 507.79,386.86 503.12,387.79 499.38,389.66 494.71,392.47 491.91,395.27 490.97,398.07 492.84,397.14 496.58,394.34 499.38,390.60 503.12,388.73 507.79,385.93" fill="none" stroke="#ad3dca" stroke-width="0.75" stroke-linejoin="round" stroke-linecap="round"/>
<rect x="397.80" y="280.00" width="128.40" height="124.50" fill="none" stroke="#000" stroke-width="1.4"/>
<line x1="461.90" y1="280.00" x2="461.90" y2="404.50" stroke="#000" stroke-width="1.4" />
<line x1="397.80" y1="341.60" x2="526.20" y2="341.60" stroke="#000" stroke-width="1.4" />
<rect x="584.90" y="357.07" width="14.00" height="20.03" fill="#ff0000" stroke="#000" stroke-width="1.2"/>
<rect x="608.40" y="343.25" width="14.00" height="33.85" fill="#a00000" stroke="#000" stroke-width="1.2"/>
<rect x="631.90" y="354.39" width="14.00" height="22.71" fill="#0000ff" stroke="#000" stroke-width="1.2"/>
<rect x="655.30" y="339.82" width="14.00" height="37.28" fill="#00007c" stroke="#000" stroke-width="1.2"/>
<line x1="591.90" y1="357.07" x2="591.90" y2="354.39" stroke="#000" stroke-width="1.0" />
<line x1="589.40" y1="354.39" x2="594.40" y2="354.39" stroke="#000" stroke-width="1.0" />
<line x1="615.40" y1="343.25" x2="615.40" y2="340.03" stroke="#000" stroke-width="1.0" />
<line x1="612.90" y1="340.03" x2="617.90" y2="340.03" stroke="#000" stroke-width="1.0" />
<line x1="638.90" y1="354.39" x2="638.90" y2="350.32" stroke="#000" stroke-width="1.0" />
<line x1="636.40" y1="350.32" x2="641.40" y2="350.32" stroke="#000" stroke-width="1.0" />
<line x1="662.30" y1="339.82" x2="662.30" y2="335.32" stroke="#000" stroke-width="1.0" />
<line x1="659.80" y1="335.32" x2="664.80" y2="335.32" stroke="#000" stroke-width="1.0" />
<circle cx="591.90" cy="312.82" r="1.50" fill="#fff" stroke="#000" stroke-width="0.7"/>
<circle cx="591.90" cy="332.11" r="1.50" fill="#fff" stroke="#000" stroke-width="0.7"/>
<circle cx="591.90" cy="339.61" r="1.50" fill="#fff" stroke="#000" stroke-width="0.7"/>
<circle cx="594.75" cy="341.75" r="1.50" fill="#fff" stroke="#000" stroke-width="0.7"/>
<circle cx="591.90" cy="342.82" r="1.50" fill="#fff" stroke="#000" stroke-width="0.7"/>
<circle cx="589.05" cy="343.89" r="1.50" fill="#fff" stroke="#000" stroke-width="0.7"/>
<circle cx="594.75" cy="344.96" r="1.50" fill="#fff" stroke="#000" stroke-width="0.7"/>
<circle cx="597.60" cy="344.96" r="1.50" fill="#fff" stroke="#000" stroke-width="0.7"/>
<circle cx="591.90" cy="350.32" r="1.50" fill="#fff" stroke="#000" stroke-width="0.7"/>
<circle cx="591.90" cy="353.53" r="1.50" fill="#fff" stroke="#000" stroke-width="0.7"/>
<circle cx="594.75" cy="355.68" r="1.50" fill="#fff" stroke="#000" stroke-width="0.7"/>
<circle cx="591.90" cy="356.75" r="1.50" fill="#fff" stroke="#000" stroke-width="0.7"/>
<circle cx="589.05" cy="357.82" r="1.50" fill="#fff" stroke="#000" stroke-width="0.7"/>
<circle cx="594.75" cy="358.89" r="1.50" fill="#fff" stroke="#000" stroke-width="0.7"/>
<circle cx="591.90" cy="361.03" r="1.50" fill="#fff" stroke="#000" stroke-width="0.7"/>
<circle cx="594.75" cy="362.10" r="1.50" fill="#fff" stroke="#000" stroke-width="0.7"/>
<circle cx="589.05" cy="363.17" r="1.50" fill="#fff" stroke="#000" stroke-width="0.7"/>
<circle cx="591.90" cy="364.25" r="1.50" fill="#fff" stroke="#000" stroke-width="0.7"/>
<circle cx="594.75" cy="365.32" r="1.50" fill="#fff" stroke="#000" stroke-width="0.7"/>
<circle cx="589.05" cy="366.39" r="1.50" fill="#fff" stroke="#000" stroke-width="0.7"/>
<circle cx="591.90" cy="367.46" r="1.50" fill="#fff" stroke="#000" stroke-width="0.7"/>
<circle cx="594.75" cy="368.53" r="1.50" fill="#fff" stroke="#000" stroke-width="0.7"/>
<circle cx="597.60" cy="368.53" r="1.50" fill="#fff" stroke="#000" stroke-width="0.7"/>
<circle cx="589.05" cy="369.60" r="1.50" fill="#fff" stroke="#000" stroke-width="0.7"/>
<circle cx="586.20" cy="369.60" r="1.50" fill="#fff" stroke="#000" stroke-width="0.7"/>
<circle cx="591.90" cy="370.67" r="1.50" fill="#fff" stroke="#000" stroke-width="0.7"/>
<circle cx="607.40" cy="312.82" r="1.50" fill="#fff" stroke="#000" stroke-width="0.7"/>
<circle cx="610.07" cy="312.82" r="1.50" fill="#fff" stroke="#000" stroke-width="0.7"/>
<circle cx="612.73" cy="312.82" r="1.50" fill="#fff" stroke="#000" stroke-width="0.7"/>
<circle cx="615.40" cy="312.82" r="1.50" fill="#fff" stroke="#000" stroke-width="0.7"/>
<circle cx="618.07" cy="312.82" r="1.50" fill="#fff" stroke="#000" stroke-width="0.7"/>
<circle cx="620.73" cy="312.82" r="1.50" fill="#fff" stroke="#000" stroke-width="0.7"/>
<circle cx="623.40" cy="312.82" r="1.50" fill="#fff" stroke="#000" stroke-width="0.7"/>
<circle cx="615.40" cy="313.90" r="1.50" fill="#fff" stroke="#000" stroke-width="0.7"/>
<circle cx="615.40" cy="328.89" r="1.50" fill="#fff" stroke="#000" stroke-width="0.7"/>
<circle cx="615.40" cy="336.39" r="1.50" fill="#fff" stroke="#000" stroke-width="0.7"/>
<circle cx="618.25" cy="337.46" r="1.50" fill="#fff" stroke="#000" stroke-width="0.7"/>
<circle cx="612.55" cy="338.54" r="1.50" fill="#fff" stroke="#000" stroke-width="0.7"/>
<circle cx="615.40" cy="339.61" r="1.50" fill="#fff" stroke="#000" stroke-width="0.7"/>
<circle cx="618.25" cy="340.68" r="1.50" fill="#fff" stroke="#000" stroke-width="0.7"/>
<circle cx="612.55" cy="341.75" r="1.50" fill="#fff" stroke="#000" stroke-width="0.7"/>
<circle cx="615.40" cy="344.96" r="1.50" fill="#fff" stroke="#000" stroke-width="0.7"/>
<circle cx="618.25" cy="347.11" r="1.50" fill="#fff" stroke="#000" stroke-width="0.7"/>
<circle cx="615.40" cy="348.18" r="1.50" fill="#fff" stroke="#000" stroke-width="0.7"/>
<circle cx="618.25" cy="350.32" r="1.50" fill="#fff" stroke="#000" stroke-width="0.7"/>
<circle cx="615.40" cy="351.39" r="1.50" fill="#fff" stroke="#000" stroke-width="0.7"/>
<circle cx="618.25" cy="353.53" r="1.50" fill="#fff" stroke="#000" stroke-width="0.7"/>
<circle cx="615.40" cy="355.68" r="1.50" fill="#fff" stroke="#000" stroke-width="0.7"/>
<circle cx="618.25" cy="356.75" r="1.50" fill="#fff" stroke="#000" stroke-width="0.7"/>
<circle cx="612.55" cy="357.82" r="1.50" fill="#fff" stroke="#000" stroke-width="0.7"/>
<circle cx="615.40" cy="359.96" r="1.50" fill="#fff" stroke="#000" stroke-width="0.7"/>
<circle cx="618.25" cy="361.03" r="1.50" fill="#fff" stroke="#000" stroke-width="0.7"/>
<circle cx="612.55" cy="361.03" r="1.50" fill="#fff" stroke="#000" stroke-width="0.7"/>
<circle cx="621.10" cy="362.10" r="1.50" fill="#fff" stroke="#000" stroke-width="0.7"/>
<circle cx="615.40" cy="364.25" r="1.50" fill="#fff" stroke="#000" stroke-width="0.7"/>
<circle cx="618.25" cy="366.39" r="1.50" fill="#fff" stroke="#000" stroke-width="0.7"/>
<circle cx="634.55" cy="312.82" r="1.50" fill="#fff" stroke="#000" stroke-width="0.7"/>
<circle cx="637.45" cy="312.82" r="1.50" fill="#fff" stroke="#000" stroke-width="0.7"/>
<circle cx="640.35" cy="312.82" r="1.50" fill="#fff" stroke="#000" stroke-width="0.7"/>
<circle cx="643.25" cy="312.82" r="1.50" fill="#fff" stroke="#000" stroke-width="0.7"/>
<circle cx="638.90" cy="322.47" r="1.50" fill="#fff" stroke="#000" stroke-width="0.7"/>
<circle cx="638.90" cy="327.82" r="1.50" fill="#fff" stroke="#000" stroke-width="0.7"/>
<circle cx="638.90" cy="341.75" r="1.50" fill="#fff" stroke="#000" stroke-width="0.7"/>
<circle cx="638.90" cy="344.96" r="1.50" fill="#fff" stroke="#000" stroke-width="0.7"/>
<circle cx="641.75" cy="347.11" r="1.50" fill="#fff" stroke="#000" stroke-width="0.7"/>
<circle cx="638.90" cy="353.53" r="1.50" fill="#fff" stroke="#000" stroke-width="0.7"/>
<circle cx="638.90" cy="357.82" r="1.50" fill="#fff" stroke="#000" stroke-width="0.7"/>
<circle cx="638.90" cy="361.03" r="1.50" fill="#fff" stroke="#000" stroke-width="0.7"/>
<circle cx="638.90" cy="364.25" r="1.50" fill="#fff" stroke="#000" stroke-width="0.7"/>
<circle cx="641.75" cy="366.39" r="1.50" fill="#fff" stroke="#000" stroke-width="0.7"/>
<circle cx="638.90" cy="368.53" r="1.50" fill="#fff" stroke="#000" stroke-width="0.7"/>
<circle cx="641.75" cy="370.67" r="1.50" fill="#fff" stroke="#000" stroke-width="0.7"/>
<circle cx="638.90" cy="371.74" r="1.50" fill="#fff" stroke="#000" stroke-width="0.7"/>
<circle cx="636.05" cy="372.81" r="1.50" fill="#fff" stroke="#000" stroke-width="0.7"/>
<circle cx="654.30" cy="312.82" r="1.50" fill="#fff" stroke="#000" stroke-width="0.7"/>
<circle cx="656.59" cy="312.82" r="1.50" fill="#fff" stroke="#000" stroke-width="0.7"/>
<circle cx="658.87" cy="312.82" r="1.50" fill="#fff" stroke="#000" stroke-width="0.7"/>
<circle cx="661.16" cy="312.82" r="1.50" fill="#fff" stroke="#000" stroke-width="0.7"/>
<circle cx="663.44" cy="312.82" r="1.50" fill="#fff" stroke="#000" stroke-width="0.7"/>
<circle cx="665.73" cy="312.82" r="1.50" fill="#fff" stroke="#000" stroke-width="0.7"/>
<circle cx="668.01" cy="312.82" r="1.50" fill="#fff" stroke="#000" stroke-width="0.7"/>
<circle cx="670.30" cy="312.82" r="1.50" fill="#fff" stroke="#000" stroke-width="0.7"/>
<circle cx="662.30" cy="327.82" r="1.50" fill="#fff" stroke="#000" stroke-width="0.7"/>
<circle cx="662.30" cy="339.61" r="1.50" fill="#fff" stroke="#000" stroke-width="0.7"/>
<circle cx="662.30" cy="344.96" r="1.50" fill="#fff" stroke="#000" stroke-width="0.7"/>
<circle cx="662.30" cy="350.32" r="1.50" fill="#fff" stroke="#000" stroke-width="0.7"/>
<circle cx="662.30" cy="353.53" r="1.50" fill="#fff" stroke="#000" stroke-width="0.7"/>
<circle cx="662.30" cy="357.82" r="1.50" fill="#fff" stroke="#000" stroke-width="0.7"/>
<circle cx="662.30" cy="361.03" r="1.50" fill="#fff" stroke="#000" stroke-width="0.7"/>
<circle cx="662.30" cy="364.25" r="1.50" fill="#fff" stroke="#000" stroke-width="0.7"/>
<circle cx="665.15" cy="366.39" r="1.50" fill="#fff" stroke="#000" stroke-width="0.7"/>
<circle cx="662.30" cy="368.53" r="1.50" fill="#fff" stroke="#000" stroke-width="0.7"/>
<circle cx="665.15" cy="369.60" r="1.50" fill="#fff" stroke="#000" stroke-width="0.7"/>
<line x1="576.60" y1="291.40" x2="576.60" y2="377.80" stroke="#000" stroke-width="1.4" />
<line x1="575.90" y1="377.10" x2="677.60" y2="377.10" stroke="#000" stroke-width="1.4" />
<line x1="573.10" y1="377.10" x2="576.60" y2="377.10" stroke="#000" stroke-width="1.4" />
<text x="567.28" y="380.46" font-size="8.20" font-weight="700" textLength="4.88" lengthAdjust="spacingAndGlyphs" fill="#000" >0</text>
<line x1="573.10" y1="355.68" x2="576.60" y2="355.68" stroke="#000" stroke-width="1.4" />
<text x="562.41" y="359.04" font-size="8.20" font-weight="700" textLength="9.76" lengthAdjust="spacingAndGlyphs" fill="#000" >20</text>
<line x1="573.10" y1="334.25" x2="576.60" y2="334.25" stroke="#000" stroke-width="1.4" />
<text x="562.41" y="337.61" font-size="8.20" font-weight="700" textLength="9.76" lengthAdjust="spacingAndGlyphs" fill="#000" >40</text>
<line x1="573.10" y1="312.82" x2="576.60" y2="312.82" stroke="#000" stroke-width="1.4" />
<text x="562.41" y="316.19" font-size="8.20" font-weight="700" textLength="9.76" lengthAdjust="spacingAndGlyphs" fill="#000" >60</text>
<line x1="573.10" y1="291.40" x2="576.60" y2="291.40" stroke="#000" stroke-width="1.4" />
<text x="562.41" y="294.76" font-size="8.20" font-weight="700" textLength="9.76" lengthAdjust="spacingAndGlyphs" fill="#000" >80</text>
<line x1="591.90" y1="377.10" x2="591.90" y2="380.60" stroke="#000" stroke-width="1.4" />
<line x1="615.40" y1="377.10" x2="615.40" y2="380.60" stroke="#000" stroke-width="1.4" />
<line x1="638.90" y1="377.10" x2="638.90" y2="380.60" stroke="#000" stroke-width="1.4" />
<line x1="662.30" y1="377.10" x2="662.30" y2="380.60" stroke="#000" stroke-width="1.4" />
<text x="582.52" y="389.60" font-size="8.20" font-weight="700" textLength="18.69" lengthAdjust="spacingAndGlyphs" fill="#000" >Adult</text>
<text x="606.62" y="389.60" font-size="8.20" font-weight="700" textLength="17.84" lengthAdjust="spacingAndGlyphs" fill="#000" >Aged</text>
<text x="629.52" y="389.60" font-size="8.20" font-weight="700" textLength="18.69" lengthAdjust="spacingAndGlyphs" fill="#000" >Adult</text>
<text x="653.52" y="389.60" font-size="8.20" font-weight="700" textLength="17.84" lengthAdjust="spacingAndGlyphs" fill="#000" >Aged</text>
<line x1="581.00" y1="394.20" x2="624.80" y2="394.20" stroke="#777" stroke-width="1.5" />
<text x="593.72" y="403.90" font-size="8.20" font-weight="700" textLength="18.14" lengthAdjust="spacingAndGlyphs" fill="#000" >Male</text>
<line x1="628.00" y1="394.20" x2="670.80" y2="394.20" stroke="#777" stroke-width="1.5" />
<text x="635.97" y="403.90" font-size="8.20" font-weight="700" textLength="25.65" lengthAdjust="spacingAndGlyphs" fill="#000" >Female</text>
<polyline points="591.90,307.40 591.90,302.70 615.40,302.70 615.40,307.40" fill="none" stroke="#222" stroke-width="0.9" stroke-linejoin="miter"/>
<line x1="603.65" y1="296.75" x2="603.65" y2="299.25" stroke="#222" stroke-width="0.75" /><line x1="602.57" y1="297.38" x2="604.73" y2="298.62" stroke="#222" stroke-width="0.75" /><line x1="604.73" y1="297.38" x2="602.57" y2="298.62" stroke="#222" stroke-width="0.75" />
<polyline points="638.90,307.40 638.90,302.70 662.30,302.70 662.30,307.40" fill="none" stroke="#222" stroke-width="0.9" stroke-linejoin="miter"/>
<line x1="650.60" y1="296.75" x2="650.60" y2="299.25" stroke="#222" stroke-width="0.75" /><line x1="649.52" y1="297.38" x2="651.68" y2="298.62" stroke="#222" stroke-width="0.75" /><line x1="651.68" y1="297.38" x2="649.52" y2="298.62" stroke="#222" stroke-width="0.75" />
<polyline points="591.90,291.50 591.90,286.80 638.90,286.80 638.90,291.50" fill="none" stroke="#222" stroke-width="0.9" stroke-linejoin="miter"/>
<text x="612.90" y="282.74" font-size="4.40" font-weight="400" textLength="4.87" lengthAdjust="spacingAndGlyphs" fill="#666" >ns</text>
<polyline points="615.40,274.70 615.40,270.00 662.30,270.00 662.30,274.70" fill="none" stroke="#222" stroke-width="0.9" stroke-linejoin="miter"/>
<text x="636.35" y="266.24" font-size="4.40" font-weight="400" textLength="4.87" lengthAdjust="spacingAndGlyphs" fill="#666" >ns</text>
<g transform="rotate(-90)"><text x="-378.61" y="557.20" font-size="8.90" font-weight="700" textLength="91.40" lengthAdjust="spacingAndGlyphs" fill="#000" >Average speed (m/seg)</text></g>
<text x="1.16" y="458.00" font-size="14.60" font-weight="700" textLength="12.25" lengthAdjust="spacingAndGlyphs" fill="#000" >E.</text>
<rect x="69.85" y="533.26" width="22.00" height="57.14" fill="#ff0000" stroke="#000" stroke-width="1.4"/>
<rect x="104.10" y="540.77" width="22.00" height="49.63" fill="#a00000" stroke="#000" stroke-width="1.4"/>
<rect x="138.40" y="533.26" width="22.00" height="57.14" fill="#0000ff" stroke="#000" stroke-width="1.4"/>
<rect x="172.50" y="534.76" width="22.00" height="55.64" fill="#00007c" stroke="#000" stroke-width="1.4"/>
<line x1="80.85" y1="533.26" x2="80.85" y2="530.91" stroke="#000" stroke-width="1.0" />
<line x1="77.85" y1="530.91" x2="83.85" y2="530.91" stroke="#000" stroke-width="1.0" />
<line x1="115.10" y1="540.77" x2="115.10" y2="538.66" stroke="#000" stroke-width="1.0" />
<line x1="112.10" y1="538.66" x2="118.10" y2="538.66" stroke="#000" stroke-width="1.0" />
<line x1="149.40" y1="533.26" x2="149.40" y2="530.68" stroke="#000" stroke-width="1.0" />
<line x1="146.40" y1="530.68" x2="152.40" y2="530.68" stroke="#000" stroke-width="1.0" />
<line x1="183.50" y1="534.76" x2="183.50" y2="532.89" stroke="#000" stroke-width="1.0" />
<line x1="180.50" y1="532.89" x2="186.50" y2="532.89" stroke="#000" stroke-width="1.0" />
<circle cx="80.85" cy="520.44" r="1.45" fill="#fff" stroke="#000" stroke-width="0.85"/>
<circle cx="70.85" cy="527.96" r="1.45" fill="#fff" stroke="#000" stroke-width="0.85"/>
<circle cx="70.85" cy="530.77" r="1.45" fill="#fff" stroke="#000" stroke-width="0.85"/>
<circle cx="75.95" cy="528.90" r="1.45" fill="#fff" stroke="#000" stroke-width="0.85"/>
<circle cx="75.95" cy="531.95" r="1.45" fill="#fff" stroke="#000" stroke-width="0.85"/>
<circle cx="80.85" cy="527.49" r="1.45" fill="#fff" stroke="#000" stroke-width="0.85"/>
<circle cx="80.85" cy="531.43" r="1.45" fill="#fff" stroke="#000" stroke-width="0.85"/>
<circle cx="85.95" cy="532.65" r="1.45" fill="#fff" stroke="#000" stroke-width="0.85"/>
<circle cx="91.05" cy="531.24" r="1.45" fill="#fff" stroke="#000" stroke-width="0.85"/>
<circle cx="80.85" cy="555.47" r="1.45" fill="#fff" stroke="#000" stroke-width="0.85"/>
<circle cx="115.10" cy="525.61" r="1.45" fill="#fff" stroke="#000" stroke-width="0.85"/>
<circle cx="112.10" cy="535.94" r="1.45" fill="#fff" stroke="#000" stroke-width="0.85"/>
<circle cx="106.50" cy="538.29" r="1.45" fill="#fff" stroke="#000" stroke-width="0.85"/>
<circle cx="123.30" cy="536.88" r="1.45" fill="#fff" stroke="#000" stroke-width="0.85"/>
<circle cx="118.00" cy="540.63" r="1.45" fill="#fff" stroke="#000" stroke-width="0.85"/>
<circle cx="112.10" cy="542.04" r="1.45" fill="#fff" stroke="#000" stroke-width="0.85"/>
<circle cx="112.10" cy="545.05" r="1.45" fill="#fff" stroke="#000" stroke-width="0.85"/>
<circle cx="106.50" cy="547.07" r="1.45" fill="#fff" stroke="#000" stroke-width="0.85"/>
<circle cx="118.00" cy="546.74" r="1.45" fill="#fff" stroke="#000" stroke-width="0.85"/>
<circle cx="123.30" cy="546.27" r="1.45" fill="#fff" stroke="#000" stroke-width="0.85"/>
<circle cx="149.40" cy="520.91" r="1.45" fill="#fff" stroke="#000" stroke-width="0.85"/>
<circle cx="140.70" cy="529.37" r="1.45" fill="#fff" stroke="#000" stroke-width="0.85"/>
<circle cx="146.30" cy="527.96" r="1.45" fill="#fff" stroke="#000" stroke-width="0.85"/>
<circle cx="152.00" cy="530.30" r="1.45" fill="#fff" stroke="#000" stroke-width="0.85"/>
<circle cx="158.10" cy="529.83" r="1.45" fill="#fff" stroke="#000" stroke-width="0.85"/>
<circle cx="140.70" cy="534.06" r="1.45" fill="#fff" stroke="#000" stroke-width="0.85"/>
<circle cx="146.30" cy="535.47" r="1.45" fill="#fff" stroke="#000" stroke-width="0.85"/>
<circle cx="152.00" cy="535.00" r="1.45" fill="#fff" stroke="#000" stroke-width="0.85"/>
<circle cx="158.10" cy="535.94" r="1.45" fill="#fff" stroke="#000" stroke-width="0.85"/>
<circle cx="149.40" cy="551.06" r="1.45" fill="#fff" stroke="#000" stroke-width="0.85"/>
<circle cx="177.90" cy="529.13" r="1.45" fill="#fff" stroke="#000" stroke-width="0.85"/>
<circle cx="183.50" cy="528.43" r="1.45" fill="#fff" stroke="#000" stroke-width="0.85"/>
<circle cx="189.10" cy="527.96" r="1.45" fill="#fff" stroke="#000" stroke-width="0.85"/>
<circle cx="183.50" cy="531.95" r="1.45" fill="#fff" stroke="#000" stroke-width="0.85"/>
<circle cx="177.90" cy="534.25" r="1.45" fill="#fff" stroke="#000" stroke-width="0.85"/>
<circle cx="189.10" cy="534.06" r="1.45" fill="#fff" stroke="#000" stroke-width="0.85"/>
<circle cx="183.50" cy="536.55" r="1.45" fill="#fff" stroke="#000" stroke-width="0.85"/>
<circle cx="177.90" cy="542.98" r="1.45" fill="#fff" stroke="#000" stroke-width="0.85"/>
<circle cx="183.50" cy="541.34" r="1.45" fill="#fff" stroke="#000" stroke-width="0.85"/>
<circle cx="189.10" cy="542.51" r="1.45" fill="#fff" stroke="#000" stroke-width="0.85"/>
<line x1="57.80" y1="496.50" x2="57.80" y2="591.15" stroke="#000" stroke-width="1.5" />
<line x1="57.05" y1="590.40" x2="206.30" y2="590.40" stroke="#000" stroke-width="1.5" />
<line x1="53.70" y1="590.40" x2="57.80" y2="590.40" stroke="#000" stroke-width="1.5" />
<text x="35.15" y="593.51" font-size="8.90" font-weight="700" textLength="17.32" lengthAdjust="spacingAndGlyphs" fill="#000" >0.00</text>
<line x1="53.70" y1="566.92" x2="57.80" y2="566.92" stroke="#000" stroke-width="1.5" />
<text x="35.01" y="570.03" font-size="8.90" font-weight="700" textLength="17.32" lengthAdjust="spacingAndGlyphs" fill="#000" >0.05</text>
<line x1="53.70" y1="543.45" x2="57.80" y2="543.45" stroke="#000" stroke-width="1.5" />
<text x="35.15" y="546.56" font-size="8.90" font-weight="700" textLength="17.32" lengthAdjust="spacingAndGlyphs" fill="#000" >0.10</text>
<line x1="53.70" y1="519.98" x2="57.80" y2="519.98" stroke="#000" stroke-width="1.5" />
<text x="35.01" y="523.08" font-size="8.90" font-weight="700" textLength="17.32" lengthAdjust="spacingAndGlyphs" fill="#000" >0.15</text>
<line x1="53.70" y1="496.50" x2="57.80" y2="496.50" stroke="#000" stroke-width="1.5" />
<text x="35.15" y="499.61" font-size="8.90" font-weight="700" textLength="17.32" lengthAdjust="spacingAndGlyphs" fill="#000" >0.20</text>
<line x1="80.85" y1="590.40" x2="80.85" y2="594.10" stroke="#000" stroke-width="1.5" />
<line x1="115.10" y1="590.40" x2="115.10" y2="594.10" stroke="#000" stroke-width="1.5" />
<line x1="149.40" y1="590.40" x2="149.40" y2="594.10" stroke="#000" stroke-width="1.5" />
<line x1="183.50" y1="590.40" x2="183.50" y2="594.10" stroke="#000" stroke-width="1.5" />
<text x="70.35" y="604.30" font-size="8.60" font-weight="700" textLength="20.93" lengthAdjust="spacingAndGlyphs" fill="#000" >Adult</text>
<text x="105.35" y="604.30" font-size="8.60" font-weight="700" textLength="19.81" lengthAdjust="spacingAndGlyphs" fill="#000" >Aged</text>
<text x="138.90" y="604.30" font-size="8.60" font-weight="700" textLength="20.93" lengthAdjust="spacingAndGlyphs" fill="#000" >Adult</text>
<text x="173.75" y="604.30" font-size="8.60" font-weight="700" textLength="19.81" lengthAdjust="spacingAndGlyphs" fill="#000" >Aged</text>
<line x1="67.00" y1="608.60" x2="126.80" y2="608.60" stroke="#777" stroke-width="1.5" />
<text x="87.23" y="619.60" font-size="8.90" font-weight="700" textLength="19.51" lengthAdjust="spacingAndGlyphs" fill="#000" >Male</text>
<line x1="136.20" y1="608.60" x2="195.30" y2="608.60" stroke="#777" stroke-width="1.5" />
<text x="151.47" y="619.60" font-size="8.90" font-weight="700" textLength="28.13" lengthAdjust="spacingAndGlyphs" fill="#000" >Female</text>
<polyline points="80.80,515.10 80.80,509.60 115.10,509.60 115.10,515.10" fill="none" stroke="#111" stroke-width="1.0" stroke-linejoin="miter"/>
<line x1="97.95" y1="503.40" x2="97.95" y2="506.00" stroke="#111" stroke-width="0.78" /><line x1="96.82" y1="504.05" x2="99.08" y2="505.35" stroke="#111" stroke-width="0.78" /><line x1="99.08" y1="504.05" x2="96.82" y2="505.35" stroke="#111" stroke-width="0.78" />
<polyline points="149.30,515.10 149.30,509.60 183.50,509.60 183.50,515.10" fill="none" stroke="#111" stroke-width="1.0" stroke-linejoin="miter"/>
<text x="163.33" y="506.30" font-size="5.40" font-weight="400" textLength="5.97" lengthAdjust="spacingAndGlyphs" fill="#555" >ns</text>
<polyline points="80.80,496.90 80.80,491.50 149.30,491.50 149.30,496.90" fill="none" stroke="#111" stroke-width="1.0" stroke-linejoin="miter"/>
<text x="111.98" y="488.20" font-size="5.40" font-weight="400" textLength="5.97" lengthAdjust="spacingAndGlyphs" fill="#555" >ns</text>
<polyline points="115.10,478.60 115.10,472.90 183.50,472.90 183.50,478.60" fill="none" stroke="#111" stroke-width="1.0" stroke-linejoin="miter"/>
<text x="146.23" y="469.40" font-size="5.40" font-weight="400" textLength="5.97" lengthAdjust="spacingAndGlyphs" fill="#555" >ns</text>
<g transform="rotate(-90)"><text x="-592.13" y="29.00" font-size="9.40" font-weight="700" textLength="100.97" lengthAdjust="spacingAndGlyphs" fill="#000" >Average speed (m/seg)</text></g>
<text x="226.50" y="458.10" font-size="14.60" font-weight="700" textLength="10.73" lengthAdjust="spacingAndGlyphs" fill="#000" >F.</text>
<rect x="283.50" y="535.89" width="21.60" height="54.81" fill="#ff0000" stroke="#000" stroke-width="1.4"/>
<rect x="317.40" y="553.73" width="21.60" height="36.97" fill="#a00000" stroke="#000" stroke-width="1.4"/>
<rect x="351.40" y="547.41" width="21.60" height="43.29" fill="#0000ff" stroke="#000" stroke-width="1.4"/>
<rect x="385.30" y="562.46" width="21.60" height="28.24" fill="#00007c" stroke="#000" stroke-width="1.4"/>
<line x1="294.30" y1="535.89" x2="294.30" y2="529.39" stroke="#000" stroke-width="1.0" />
<line x1="291.30" y1="529.39" x2="297.30" y2="529.39" stroke="#000" stroke-width="1.0" />
<line x1="328.20" y1="553.73" x2="328.20" y2="549.27" stroke="#000" stroke-width="1.0" />
<line x1="325.20" y1="549.27" x2="331.20" y2="549.27" stroke="#000" stroke-width="1.0" />
<line x1="362.20" y1="547.41" x2="362.20" y2="540.53" stroke="#000" stroke-width="1.0" />
<line x1="359.20" y1="540.53" x2="365.20" y2="540.53" stroke="#000" stroke-width="1.0" />
<line x1="396.10" y1="562.46" x2="396.10" y2="556.51" stroke="#000" stroke-width="1.0" />
<line x1="393.10" y1="556.51" x2="399.10" y2="556.51" stroke="#000" stroke-width="1.0" />
<circle cx="294.30" cy="504.86" r="1.45" fill="#fff" stroke="#000" stroke-width="0.85"/>
<circle cx="291.40" cy="520.65" r="1.45" fill="#fff" stroke="#000" stroke-width="0.85"/>
<circle cx="297.20" cy="522.88" r="1.45" fill="#fff" stroke="#000" stroke-width="0.85"/>
<circle cx="294.30" cy="526.97" r="1.45" fill="#fff" stroke="#000" stroke-width="0.85"/>
<circle cx="291.40" cy="533.66" r="1.45" fill="#fff" stroke="#000" stroke-width="0.85"/>
<circle cx="297.20" cy="532.73" r="1.45" fill="#fff" stroke="#000" stroke-width="0.85"/>
<circle cx="291.40" cy="547.59" r="1.45" fill="#fff" stroke="#000" stroke-width="0.85"/>
<circle cx="297.20" cy="545.92" r="1.45" fill="#fff" stroke="#000" stroke-width="0.85"/>
<circle cx="291.40" cy="558.93" r="1.45" fill="#fff" stroke="#000" stroke-width="0.85"/>
<circle cx="297.20" cy="557.81" r="1.45" fill="#fff" stroke="#000" stroke-width="0.85"/>
<circle cx="328.20" cy="526.97" r="1.45" fill="#fff" stroke="#000" stroke-width="0.85"/>
<circle cx="328.20" cy="544.62" r="1.45" fill="#fff" stroke="#000" stroke-width="0.85"/>
<circle cx="322.80" cy="550.57" r="1.45" fill="#fff" stroke="#000" stroke-width="0.85"/>
<circle cx="333.90" cy="549.64" r="1.45" fill="#fff" stroke="#000" stroke-width="0.85"/>
<circle cx="328.20" cy="552.24" r="1.45" fill="#fff" stroke="#000" stroke-width="0.85"/>
<circle cx="322.80" cy="554.84" r="1.45" fill="#fff" stroke="#000" stroke-width="0.85"/>
<circle cx="328.20" cy="556.70" r="1.45" fill="#fff" stroke="#000" stroke-width="0.85"/>
<circle cx="328.20" cy="562.64" r="1.45" fill="#fff" stroke="#000" stroke-width="0.85"/>
<circle cx="328.20" cy="565.99" r="1.45" fill="#fff" stroke="#000" stroke-width="0.85"/>
<circle cx="328.20" cy="570.08" r="1.45" fill="#fff" stroke="#000" stroke-width="0.85"/>
<circle cx="362.20" cy="529.76" r="1.45" fill="#fff" stroke="#000" stroke-width="0.85"/>
<circle cx="356.50" cy="534.03" r="1.45" fill="#fff" stroke="#000" stroke-width="0.85"/>
<circle cx="362.20" cy="533.66" r="1.45" fill="#fff" stroke="#000" stroke-width="0.85"/>
<circle cx="367.90" cy="533.10" r="1.45" fill="#fff" stroke="#000" stroke-width="0.85"/>
<circle cx="367.90" cy="537.00" r="1.45" fill="#fff" stroke="#000" stroke-width="0.85"/>
<circle cx="362.20" cy="539.42" r="1.45" fill="#fff" stroke="#000" stroke-width="0.85"/>
<circle cx="362.20" cy="549.82" r="1.45" fill="#fff" stroke="#000" stroke-width="0.85"/>
<circle cx="359.30" cy="561.16" r="1.45" fill="#fff" stroke="#000" stroke-width="0.85"/>
<circle cx="365.10" cy="561.16" r="1.45" fill="#fff" stroke="#000" stroke-width="0.85"/>
<circle cx="362.20" cy="590.14" r="1.45" fill="#fff" stroke="#000" stroke-width="0.85"/>
<circle cx="396.10" cy="532.17" r="1.45" fill="#fff" stroke="#000" stroke-width="0.85"/>
<circle cx="390.40" cy="553.35" r="1.45" fill="#fff" stroke="#000" stroke-width="0.85"/>
<circle cx="396.10" cy="553.17" r="1.45" fill="#fff" stroke="#000" stroke-width="0.85"/>
<circle cx="401.80" cy="552.24" r="1.45" fill="#fff" stroke="#000" stroke-width="0.85"/>
<circle cx="396.10" cy="563.20" r="1.45" fill="#fff" stroke="#000" stroke-width="0.85"/>
<circle cx="390.40" cy="565.43" r="1.45" fill="#fff" stroke="#000" stroke-width="0.85"/>
<circle cx="401.80" cy="563.02" r="1.45" fill="#fff" stroke="#000" stroke-width="0.85"/>
<circle cx="401.80" cy="566.36" r="1.45" fill="#fff" stroke="#000" stroke-width="0.85"/>
<circle cx="396.10" cy="581.04" r="1.45" fill="#fff" stroke="#000" stroke-width="0.85"/>
<circle cx="396.10" cy="586.80" r="1.45" fill="#fff" stroke="#000" stroke-width="0.85"/>
<line x1="272.00" y1="497.80" x2="272.00" y2="591.45" stroke="#000" stroke-width="1.5" />
<line x1="271.25" y1="590.70" x2="420.00" y2="590.70" stroke="#000" stroke-width="1.5" />
<line x1="268.00" y1="590.70" x2="272.00" y2="590.70" stroke="#000" stroke-width="1.5" />
<text x="262.04" y="593.63" font-size="8.40" font-weight="700" textLength="4.81" lengthAdjust="spacingAndGlyphs" fill="#000" >0</text>
<line x1="268.00" y1="572.12" x2="272.00" y2="572.12" stroke="#000" stroke-width="1.5" />
<text x="257.24" y="575.05" font-size="8.40" font-weight="700" textLength="9.62" lengthAdjust="spacingAndGlyphs" fill="#000" >10</text>
<line x1="268.00" y1="553.54" x2="272.00" y2="553.54" stroke="#000" stroke-width="1.5" />
<text x="257.24" y="556.47" font-size="8.40" font-weight="700" textLength="9.62" lengthAdjust="spacingAndGlyphs" fill="#000" >20</text>
<line x1="268.00" y1="534.96" x2="272.00" y2="534.96" stroke="#000" stroke-width="1.5" />
<text x="257.24" y="537.89" font-size="8.40" font-weight="700" textLength="9.62" lengthAdjust="spacingAndGlyphs" fill="#000" >30</text>
<line x1="268.00" y1="516.38" x2="272.00" y2="516.38" stroke="#000" stroke-width="1.5" />
<text x="257.24" y="519.31" font-size="8.40" font-weight="700" textLength="9.62" lengthAdjust="spacingAndGlyphs" fill="#000" >40</text>
<line x1="268.00" y1="497.80" x2="272.00" y2="497.80" stroke="#000" stroke-width="1.5" />
<text x="257.24" y="500.73" font-size="8.40" font-weight="700" textLength="9.62" lengthAdjust="spacingAndGlyphs" fill="#000" >50</text>
<line x1="294.30" y1="590.70" x2="294.30" y2="594.40" stroke="#000" stroke-width="1.5" />
<line x1="328.20" y1="590.70" x2="328.20" y2="594.40" stroke="#000" stroke-width="1.5" />
<line x1="362.20" y1="590.70" x2="362.20" y2="594.40" stroke="#000" stroke-width="1.5" />
<line x1="396.10" y1="590.70" x2="396.10" y2="594.40" stroke="#000" stroke-width="1.5" />
<text x="284.00" y="604.70" font-size="8.60" font-weight="700" textLength="20.52" lengthAdjust="spacingAndGlyphs" fill="#000" >Adult</text>
<text x="318.35" y="604.70" font-size="8.60" font-weight="700" textLength="20.02" lengthAdjust="spacingAndGlyphs" fill="#000" >Aged</text>
<text x="351.90" y="604.70" font-size="8.60" font-weight="700" textLength="20.52" lengthAdjust="spacingAndGlyphs" fill="#000" >Adult</text>
<text x="386.25" y="604.70" font-size="8.60" font-weight="700" textLength="20.02" lengthAdjust="spacingAndGlyphs" fill="#000" >Aged</text>
<line x1="281.00" y1="609.10" x2="340.00" y2="609.10" stroke="#222" stroke-width="1.2" />
<text x="300.73" y="620.00" font-size="8.90" font-weight="700" textLength="19.51" lengthAdjust="spacingAndGlyphs" fill="#000" >Male</text>
<line x1="348.80" y1="609.10" x2="408.00" y2="609.10" stroke="#222" stroke-width="1.2" />
<text x="364.06" y="620.00" font-size="8.90" font-weight="700" textLength="28.44" lengthAdjust="spacingAndGlyphs" fill="#000" >Female</text>
<polyline points="294.30,499.60 294.30,493.40 328.20,493.40 328.20,499.60" fill="none" stroke="#111" stroke-width="1.0" stroke-linejoin="miter"/>
<line x1="311.25" y1="487.30" x2="311.25" y2="489.90" stroke="#111" stroke-width="0.78" /><line x1="310.12" y1="487.95" x2="312.38" y2="489.25" stroke="#111" stroke-width="0.78" /><line x1="312.38" y1="487.95" x2="310.12" y2="489.25" stroke="#111" stroke-width="0.78" />
<polyline points="362.20,499.60 362.20,493.40 396.10,493.40 396.10,499.60" fill="none" stroke="#111" stroke-width="1.0" stroke-linejoin="miter"/>
<text x="376.08" y="490.00" font-size="5.40" font-weight="400" textLength="5.97" lengthAdjust="spacingAndGlyphs" fill="#555" >ns</text>
<polyline points="294.30,481.70 294.30,476.00 362.20,476.00 362.20,481.70" fill="none" stroke="#111" stroke-width="1.0" stroke-linejoin="miter"/>
<text x="325.18" y="472.00" font-size="5.40" font-weight="400" textLength="5.97" lengthAdjust="spacingAndGlyphs" fill="#555" >ns</text>
<polyline points="328.20,463.60 328.20,457.90 396.10,457.90 396.10,463.60" fill="none" stroke="#111" stroke-width="1.0" stroke-linejoin="miter"/>
<text x="359.08" y="453.80" font-size="5.40" font-weight="400" textLength="5.97" lengthAdjust="spacingAndGlyphs" fill="#555" >ns</text>
<g transform="rotate(-90)"><text x="-591.59" y="250.80" font-size="9.60" font-weight="700" textLength="97.51" lengthAdjust="spacingAndGlyphs" fill="#000" >Time spent in Q4 (seg)</text></g>
<text x="-0.06" y="657.00" font-size="14.40" font-weight="700" textLength="14.80" lengthAdjust="spacingAndGlyphs" fill="#000" >H.</text>
<rect x="70.75" y="743.20" width="22.70" height="47.90" fill="#ff0000" stroke="#000" stroke-width="1.4"/>
<rect x="106.75" y="762.02" width="22.70" height="29.08" fill="#a00000" stroke="#000" stroke-width="1.4"/>
<rect x="142.95" y="753.38" width="22.70" height="37.72" fill="#0000ff" stroke="#000" stroke-width="1.4"/>
<rect x="179.15" y="779.99" width="22.70" height="11.11" fill="#00007c" stroke="#000" stroke-width="1.4"/>
<line x1="82.10" y1="743.20" x2="82.10" y2="734.88" stroke="#000" stroke-width="1.0" />
<line x1="78.80" y1="734.88" x2="85.40" y2="734.88" stroke="#000" stroke-width="1.0" />
<line x1="118.10" y1="762.02" x2="118.10" y2="759.36" stroke="#000" stroke-width="1.0" />
<line x1="114.80" y1="759.36" x2="121.40" y2="759.36" stroke="#000" stroke-width="1.0" />
<line x1="154.30" y1="753.38" x2="154.30" y2="745.72" stroke="#000" stroke-width="1.0" />
<line x1="151.00" y1="745.72" x2="157.60" y2="745.72" stroke="#000" stroke-width="1.0" />
<line x1="190.50" y1="779.99" x2="190.50" y2="776.33" stroke="#000" stroke-width="1.0" />
<line x1="187.20" y1="776.33" x2="193.80" y2="776.33" stroke="#000" stroke-width="1.0" />
<circle cx="82.10" cy="711.26" r="1.50" fill="#fff" stroke="#000" stroke-width="0.9"/>
<circle cx="79.00" cy="717.91" r="1.50" fill="#fff" stroke="#000" stroke-width="0.9"/>
<circle cx="85.20" cy="717.91" r="1.50" fill="#fff" stroke="#000" stroke-width="0.9"/>
<circle cx="79.00" cy="724.57" r="1.50" fill="#fff" stroke="#000" stroke-width="0.9"/>
<circle cx="85.20" cy="724.57" r="1.50" fill="#fff" stroke="#000" stroke-width="0.9"/>
<circle cx="79.00" cy="757.83" r="1.50" fill="#fff" stroke="#000" stroke-width="0.9"/>
<circle cx="85.20" cy="757.83" r="1.50" fill="#fff" stroke="#000" stroke-width="0.9"/>
<circle cx="79.00" cy="771.14" r="1.50" fill="#fff" stroke="#000" stroke-width="0.9"/>
<circle cx="85.20" cy="771.14" r="1.50" fill="#fff" stroke="#000" stroke-width="0.9"/>
<circle cx="82.10" cy="777.79" r="1.50" fill="#fff" stroke="#000" stroke-width="0.9"/>
<circle cx="118.10" cy="744.53" r="1.50" fill="#fff" stroke="#000" stroke-width="0.9"/>
<circle cx="118.10" cy="751.18" r="1.50" fill="#fff" stroke="#000" stroke-width="0.9"/>
<circle cx="112.00" cy="757.83" r="1.50" fill="#fff" stroke="#000" stroke-width="0.9"/>
<circle cx="118.10" cy="757.83" r="1.50" fill="#fff" stroke="#000" stroke-width="0.9"/>
<circle cx="124.20" cy="757.83" r="1.50" fill="#fff" stroke="#000" stroke-width="0.9"/>
<circle cx="112.00" cy="764.49" r="1.50" fill="#fff" stroke="#000" stroke-width="0.9"/>
<circle cx="118.10" cy="764.49" r="1.50" fill="#fff" stroke="#000" stroke-width="0.9"/>
<circle cx="124.20" cy="764.49" r="1.50" fill="#fff" stroke="#000" stroke-width="0.9"/>
<circle cx="118.10" cy="771.14" r="1.50" fill="#fff" stroke="#000" stroke-width="0.9"/>
<circle cx="118.10" cy="784.45" r="1.50" fill="#fff" stroke="#000" stroke-width="0.9"/>
<circle cx="154.30" cy="711.26" r="1.50" fill="#fff" stroke="#000" stroke-width="0.9"/>
<circle cx="154.30" cy="731.22" r="1.50" fill="#fff" stroke="#000" stroke-width="0.9"/>
<circle cx="154.30" cy="737.87" r="1.50" fill="#fff" stroke="#000" stroke-width="0.9"/>
<circle cx="154.30" cy="744.53" r="1.50" fill="#fff" stroke="#000" stroke-width="0.9"/>
<circle cx="154.30" cy="751.18" r="1.50" fill="#fff" stroke="#000" stroke-width="0.9"/>
<circle cx="148.30" cy="764.49" r="1.50" fill="#fff" stroke="#000" stroke-width="0.9"/>
<circle cx="154.30" cy="764.49" r="1.50" fill="#fff" stroke="#000" stroke-width="0.9"/>
<circle cx="160.30" cy="764.49" r="1.50" fill="#fff" stroke="#000" stroke-width="0.9"/>
<circle cx="154.30" cy="771.14" r="1.50" fill="#fff" stroke="#000" stroke-width="0.9"/>
<circle cx="154.30" cy="791.10" r="1.50" fill="#fff" stroke="#000" stroke-width="0.9"/>
<circle cx="184.50" cy="764.49" r="1.50" fill="#fff" stroke="#000" stroke-width="0.9"/>
<circle cx="190.50" cy="764.49" r="1.50" fill="#fff" stroke="#000" stroke-width="0.9"/>
<circle cx="196.50" cy="764.49" r="1.50" fill="#fff" stroke="#000" stroke-width="0.9"/>
<circle cx="190.50" cy="771.14" r="1.50" fill="#fff" stroke="#000" stroke-width="0.9"/>
<circle cx="187.50" cy="784.45" r="1.50" fill="#fff" stroke="#000" stroke-width="0.9"/>
<circle cx="193.50" cy="784.45" r="1.50" fill="#fff" stroke="#000" stroke-width="0.9"/>
<circle cx="181.50" cy="791.10" r="1.50" fill="#fff" stroke="#000" stroke-width="0.9"/>
<circle cx="187.50" cy="791.10" r="1.50" fill="#fff" stroke="#000" stroke-width="0.9"/>
<circle cx="193.50" cy="791.10" r="1.50" fill="#fff" stroke="#000" stroke-width="0.9"/>
<circle cx="199.50" cy="791.10" r="1.50" fill="#fff" stroke="#000" stroke-width="0.9"/>
<line x1="57.70" y1="691.30" x2="57.70" y2="791.85" stroke="#000" stroke-width="1.5" />
<line x1="56.95" y1="791.10" x2="214.70" y2="791.10" stroke="#000" stroke-width="1.5" />
<line x1="53.70" y1="791.10" x2="57.70" y2="791.10" stroke="#000" stroke-width="1.5" />
<text x="48.03" y="794.24" font-size="9.00" font-weight="700" textLength="5.26" lengthAdjust="spacingAndGlyphs" fill="#000" >0</text>
<line x1="53.70" y1="757.83" x2="57.70" y2="757.83" stroke="#000" stroke-width="1.5" />
<text x="47.89" y="760.97" font-size="9.00" font-weight="700" textLength="5.26" lengthAdjust="spacingAndGlyphs" fill="#000" >5</text>
<line x1="53.70" y1="724.57" x2="57.70" y2="724.57" stroke="#000" stroke-width="1.5" />
<text x="42.79" y="727.71" font-size="9.00" font-weight="700" textLength="10.51" lengthAdjust="spacingAndGlyphs" fill="#000" >10</text>
<line x1="53.70" y1="691.30" x2="57.70" y2="691.30" stroke="#000" stroke-width="1.5" />
<text x="42.65" y="694.44" font-size="9.00" font-weight="700" textLength="10.51" lengthAdjust="spacingAndGlyphs" fill="#000" >15</text>
<line x1="82.10" y1="791.10" x2="82.10" y2="794.80" stroke="#000" stroke-width="1.5" />
<line x1="118.10" y1="791.10" x2="118.10" y2="794.80" stroke="#000" stroke-width="1.5" />
<line x1="154.30" y1="791.10" x2="154.30" y2="794.80" stroke="#000" stroke-width="1.5" />
<line x1="190.50" y1="791.10" x2="190.50" y2="794.80" stroke="#000" stroke-width="1.5" />
<text x="71.60" y="805.00" font-size="8.60" font-weight="700" textLength="20.93" lengthAdjust="spacingAndGlyphs" fill="#000" >Adult</text>
<text x="108.35" y="805.00" font-size="8.60" font-weight="700" textLength="19.81" lengthAdjust="spacingAndGlyphs" fill="#000" >Aged</text>
<text x="143.80" y="805.00" font-size="8.60" font-weight="700" textLength="20.93" lengthAdjust="spacingAndGlyphs" fill="#000" >Adult</text>
<text x="180.75" y="805.00" font-size="8.60" font-weight="700" textLength="19.81" lengthAdjust="spacingAndGlyphs" fill="#000" >Aged</text>
<line x1="66.30" y1="809.70" x2="130.60" y2="809.70" stroke="#222" stroke-width="1.2" />
<text x="90.03" y="821.30" font-size="8.90" font-weight="700" textLength="19.51" lengthAdjust="spacingAndGlyphs" fill="#000" >Male</text>
<line x1="139.80" y1="809.70" x2="202.40" y2="809.70" stroke="#222" stroke-width="1.2" />
<text x="156.46" y="821.30" font-size="8.90" font-weight="700" textLength="28.44" lengthAdjust="spacingAndGlyphs" fill="#000" >Female</text>
<polyline points="82.20,705.20 82.20,699.30 118.10,699.30 118.10,705.20" fill="none" stroke="#111" stroke-width="1.0" stroke-linejoin="miter"/>
<text x="97.08" y="695.40" font-size="5.40" font-weight="400" textLength="5.97" lengthAdjust="spacingAndGlyphs" fill="#555" >ns</text>
<polyline points="154.30,705.20 154.30,699.30 190.50,699.30 190.50,705.20" fill="none" stroke="#111" stroke-width="1.0" stroke-linejoin="miter"/>
<line x1="172.40" y1="692.70" x2="172.40" y2="695.30" stroke="#111" stroke-width="0.78" /><line x1="171.27" y1="693.35" x2="173.53" y2="694.65" stroke="#111" stroke-width="0.78" /><line x1="173.53" y1="693.35" x2="171.27" y2="694.65" stroke="#111" stroke-width="0.78" />
<polyline points="82.20,686.60 82.20,680.80 154.30,680.80 154.30,686.60" fill="none" stroke="#111" stroke-width="1.0" stroke-linejoin="miter"/>
<text x="115.18" y="676.90" font-size="5.40" font-weight="400" textLength="5.97" lengthAdjust="spacingAndGlyphs" fill="#555" >ns</text>
<polyline points="118.10,667.80 118.10,661.90 190.50,661.90 190.50,667.80" fill="none" stroke="#111" stroke-width="1.0" stroke-linejoin="miter"/>
<text x="151.23" y="658.00" font-size="5.40" font-weight="400" textLength="5.97" lengthAdjust="spacingAndGlyphs" fill="#555" >ns</text>
<g transform="rotate(-90)"><text x="-770.05" y="21.00" font-size="9.70" font-weight="700" textLength="58.96" lengthAdjust="spacingAndGlyphs" fill="#000" >N° of entries</text></g>
<g transform="rotate(-90)"><text x="-786.20" y="35.00" font-size="9.90" font-weight="700" textLength="92.30" lengthAdjust="spacingAndGlyphs" fill="#000" >to the platform area</text></g>
<text x="225.56" y="652.90" font-size="14.30" font-weight="700" textLength="8.89" lengthAdjust="spacingAndGlyphs" fill="#000" >I.</text>
<rect x="298.40" y="748.79" width="21.60" height="41.81" fill="#ff0000" stroke="#000" stroke-width="1.4"/>
<rect x="332.00" y="752.92" width="21.60" height="37.68" fill="#a00000" stroke="#000" stroke-width="1.4"/>
<rect x="365.30" y="744.19" width="21.60" height="46.41" fill="#0000ff" stroke="#000" stroke-width="1.4"/>
<rect x="398.90" y="776.82" width="21.60" height="13.78" fill="#00007c" stroke="#000" stroke-width="1.4"/>
<line x1="309.20" y1="748.79" x2="309.20" y2="741.89" stroke="#000" stroke-width="1.0" />
<line x1="306.20" y1="741.89" x2="312.20" y2="741.89" stroke="#000" stroke-width="1.0" />
<line x1="342.80" y1="752.92" x2="342.80" y2="747.41" stroke="#000" stroke-width="1.0" />
<line x1="339.80" y1="747.41" x2="345.80" y2="747.41" stroke="#000" stroke-width="1.0" />
<line x1="376.10" y1="744.19" x2="376.10" y2="736.38" stroke="#000" stroke-width="1.0" />
<line x1="373.10" y1="736.38" x2="379.10" y2="736.38" stroke="#000" stroke-width="1.0" />
<line x1="409.70" y1="776.82" x2="409.70" y2="771.30" stroke="#000" stroke-width="1.0" />
<line x1="406.70" y1="771.30" x2="412.70" y2="771.30" stroke="#000" stroke-width="1.0" />
<circle cx="309.20" cy="720.57" r="1.45" fill="#fff" stroke="#000" stroke-width="0.85"/>
<circle cx="309.20" cy="725.99" r="1.45" fill="#fff" stroke="#000" stroke-width="0.85"/>
<circle cx="306.30" cy="732.70" r="1.45" fill="#fff" stroke="#000" stroke-width="0.85"/>
<circle cx="312.10" cy="731.42" r="1.45" fill="#fff" stroke="#000" stroke-width="0.85"/>
<circle cx="309.20" cy="735.46" r="1.45" fill="#fff" stroke="#000" stroke-width="0.85"/>
<circle cx="309.20" cy="756.60" r="1.45" fill="#fff" stroke="#000" stroke-width="0.85"/>
<circle cx="309.20" cy="763.31" r="1.45" fill="#fff" stroke="#000" stroke-width="0.85"/>
<circle cx="309.20" cy="766.71" r="1.45" fill="#fff" stroke="#000" stroke-width="0.85"/>
<circle cx="306.30" cy="777.73" r="1.45" fill="#fff" stroke="#000" stroke-width="0.85"/>
<circle cx="312.10" cy="777.73" r="1.45" fill="#fff" stroke="#000" stroke-width="0.85"/>
<circle cx="342.80" cy="725.99" r="1.45" fill="#fff" stroke="#000" stroke-width="0.85"/>
<circle cx="342.80" cy="732.70" r="1.45" fill="#fff" stroke="#000" stroke-width="0.85"/>
<circle cx="342.80" cy="742.35" r="1.45" fill="#fff" stroke="#000" stroke-width="0.85"/>
<circle cx="342.80" cy="746.49" r="1.45" fill="#fff" stroke="#000" stroke-width="0.85"/>
<circle cx="336.80" cy="758.44" r="1.45" fill="#fff" stroke="#000" stroke-width="0.85"/>
<circle cx="342.80" cy="760.00" r="1.45" fill="#fff" stroke="#000" stroke-width="0.85"/>
<circle cx="348.30" cy="756.60" r="1.45" fill="#fff" stroke="#000" stroke-width="0.85"/>
<circle cx="348.30" cy="759.35" r="1.45" fill="#fff" stroke="#000" stroke-width="0.85"/>
<circle cx="342.80" cy="765.79" r="1.45" fill="#fff" stroke="#000" stroke-width="0.85"/>
<circle cx="342.80" cy="781.41" r="1.45" fill="#fff" stroke="#000" stroke-width="0.85"/>
<circle cx="376.10" cy="703.02" r="1.45" fill="#fff" stroke="#000" stroke-width="0.85"/>
<circle cx="376.10" cy="723.51" r="1.45" fill="#fff" stroke="#000" stroke-width="0.85"/>
<circle cx="373.20" cy="732.70" r="1.45" fill="#fff" stroke="#000" stroke-width="0.85"/>
<circle cx="379.00" cy="730.87" r="1.45" fill="#fff" stroke="#000" stroke-width="0.85"/>
<circle cx="373.20" cy="741.89" r="1.45" fill="#fff" stroke="#000" stroke-width="0.85"/>
<circle cx="379.00" cy="740.61" r="1.45" fill="#fff" stroke="#000" stroke-width="0.85"/>
<circle cx="376.10" cy="749.25" r="1.45" fill="#fff" stroke="#000" stroke-width="0.85"/>
<circle cx="376.10" cy="753.84" r="1.45" fill="#fff" stroke="#000" stroke-width="0.85"/>
<circle cx="376.10" cy="776.82" r="1.45" fill="#fff" stroke="#000" stroke-width="0.85"/>
<circle cx="376.10" cy="790.60" r="1.45" fill="#fff" stroke="#000" stroke-width="0.85"/>
<circle cx="409.70" cy="741.89" r="1.45" fill="#fff" stroke="#000" stroke-width="0.85"/>
<circle cx="409.70" cy="756.60" r="1.45" fill="#fff" stroke="#000" stroke-width="0.85"/>
<circle cx="409.70" cy="771.30" r="1.45" fill="#fff" stroke="#000" stroke-width="0.85"/>
<circle cx="406.60" cy="774.98" r="1.45" fill="#fff" stroke="#000" stroke-width="0.85"/>
<circle cx="412.30" cy="775.90" r="1.45" fill="#fff" stroke="#000" stroke-width="0.85"/>
<circle cx="409.70" cy="784.17" r="1.45" fill="#fff" stroke="#000" stroke-width="0.85"/>
<circle cx="400.90" cy="790.60" r="1.45" fill="#fff" stroke="#000" stroke-width="0.85"/>
<circle cx="406.60" cy="790.60" r="1.45" fill="#fff" stroke="#000" stroke-width="0.85"/>
<circle cx="412.30" cy="790.60" r="1.45" fill="#fff" stroke="#000" stroke-width="0.85"/>
<circle cx="418.10" cy="790.60" r="1.45" fill="#fff" stroke="#000" stroke-width="0.85"/>
<line x1="286.60" y1="698.70" x2="286.60" y2="791.35" stroke="#000" stroke-width="1.5" />
<line x1="285.85" y1="790.60" x2="432.60" y2="790.60" stroke="#000" stroke-width="1.5" />
<line x1="282.80" y1="790.60" x2="286.60" y2="790.60" stroke="#000" stroke-width="1.5" />
<text x="277.43" y="793.74" font-size="9.00" font-weight="700" textLength="5.16" lengthAdjust="spacingAndGlyphs" fill="#000" >0</text>
<line x1="282.80" y1="772.22" x2="286.60" y2="772.22" stroke="#000" stroke-width="1.5" />
<text x="277.43" y="775.36" font-size="9.00" font-weight="700" textLength="5.16" lengthAdjust="spacingAndGlyphs" fill="#000" >2</text>
<line x1="282.80" y1="753.84" x2="286.60" y2="753.84" stroke="#000" stroke-width="1.5" />
<text x="277.10" y="756.98" font-size="9.00" font-weight="700" textLength="5.16" lengthAdjust="spacingAndGlyphs" fill="#000" >4</text>
<line x1="282.80" y1="735.46" x2="286.60" y2="735.46" stroke="#000" stroke-width="1.5" />
<text x="277.38" y="738.60" font-size="9.00" font-weight="700" textLength="5.16" lengthAdjust="spacingAndGlyphs" fill="#000" >6</text>
<line x1="282.80" y1="717.08" x2="286.60" y2="717.08" stroke="#000" stroke-width="1.5" />
<text x="277.33" y="720.22" font-size="9.00" font-weight="700" textLength="5.16" lengthAdjust="spacingAndGlyphs" fill="#000" >8</text>
<line x1="282.80" y1="698.70" x2="286.60" y2="698.70" stroke="#000" stroke-width="1.5" />
<text x="272.28" y="701.84" font-size="9.00" font-weight="700" textLength="10.31" lengthAdjust="spacingAndGlyphs" fill="#000" >10</text>
<line x1="309.20" y1="790.60" x2="309.20" y2="794.30" stroke="#000" stroke-width="1.5" />
<line x1="342.80" y1="790.60" x2="342.80" y2="794.30" stroke="#000" stroke-width="1.5" />
<line x1="376.10" y1="790.60" x2="376.10" y2="794.30" stroke="#000" stroke-width="1.5" />
<line x1="409.70" y1="790.60" x2="409.70" y2="794.30" stroke="#000" stroke-width="1.5" />
<text x="298.90" y="803.90" font-size="8.60" font-weight="700" textLength="20.52" lengthAdjust="spacingAndGlyphs" fill="#000" >Adult</text>
<text x="333.05" y="803.90" font-size="8.60" font-weight="700" textLength="19.81" lengthAdjust="spacingAndGlyphs" fill="#000" >Aged</text>
<text x="365.80" y="803.90" font-size="8.60" font-weight="700" textLength="20.52" lengthAdjust="spacingAndGlyphs" fill="#000" >Adult</text>
<text x="399.95" y="803.90" font-size="8.60" font-weight="700" textLength="19.81" lengthAdjust="spacingAndGlyphs" fill="#000" >Aged</text>
<line x1="294.80" y1="808.40" x2="354.40" y2="808.40" stroke="#222" stroke-width="1.2" />
<text x="315.23" y="818.80" font-size="8.90" font-weight="700" textLength="19.51" lengthAdjust="spacingAndGlyphs" fill="#000" >Male</text>
<line x1="363.00" y1="808.40" x2="420.90" y2="808.40" stroke="#222" stroke-width="1.2" />
<text x="377.26" y="818.80" font-size="8.90" font-weight="700" textLength="28.44" lengthAdjust="spacingAndGlyphs" fill="#000" >Female</text>
<polyline points="309.20,697.90 309.20,692.70 342.80,692.70 342.80,697.90" fill="none" stroke="#111" stroke-width="1.0" stroke-linejoin="miter"/>
<text x="322.93" y="689.00" font-size="5.40" font-weight="400" textLength="5.97" lengthAdjust="spacingAndGlyphs" fill="#555" >ns</text>
<polyline points="376.10,697.90 376.10,692.70 409.70,692.70 409.70,697.90" fill="none" stroke="#111" stroke-width="1.0" stroke-linejoin="miter"/>
<line x1="390.75" y1="686.30" x2="390.75" y2="688.90" stroke="#111" stroke-width="0.78" /><line x1="389.62" y1="686.95" x2="391.88" y2="688.25" stroke="#111" stroke-width="0.78" /><line x1="391.88" y1="686.95" x2="389.62" y2="688.25" stroke="#111" stroke-width="0.78" />
<line x1="395.05" y1="686.30" x2="395.05" y2="688.90" stroke="#111" stroke-width="0.78" /><line x1="393.92" y1="686.95" x2="396.18" y2="688.25" stroke="#111" stroke-width="0.78" /><line x1="396.18" y1="686.95" x2="393.92" y2="688.25" stroke="#111" stroke-width="0.78" />
<polyline points="309.20,680.30 309.20,674.80 376.10,674.80 376.10,680.30" fill="none" stroke="#111" stroke-width="1.0" stroke-linejoin="miter"/>
<text x="339.58" y="671.00" font-size="5.40" font-weight="400" textLength="5.97" lengthAdjust="spacingAndGlyphs" fill="#555" >ns</text>
<polyline points="342.80,662.60 342.80,657.40 409.70,657.40 409.70,662.60" fill="none" stroke="#111" stroke-width="1.0" stroke-linejoin="miter"/>
<line x1="376.25" y1="651.10" x2="376.25" y2="653.70" stroke="#111" stroke-width="0.78" /><line x1="375.12" y1="651.75" x2="377.38" y2="653.05" stroke="#111" stroke-width="0.78" /><line x1="377.38" y1="651.75" x2="375.12" y2="653.05" stroke="#111" stroke-width="0.78" />
<g transform="rotate(-90)"><text x="-780.59" y="254.40" font-size="10.20" font-weight="700" textLength="73.91" lengthAdjust="spacingAndGlyphs" fill="#000" >Time spent in the</text></g>
<g transform="rotate(-90)"><text x="-783.69" y="266.60" font-size="10.20" font-weight="700" textLength="81.22" lengthAdjust="spacingAndGlyphs" fill="#000" >platform area (seg)</text></g>
<text x="447.18" y="457.90" font-size="14.60" font-weight="700" textLength="13.78" lengthAdjust="spacingAndGlyphs" fill="#000" >G.</text>
<text x="535.01" y="450.30" font-size="11.80" font-weight="700" textLength="29.76" lengthAdjust="spacingAndGlyphs" fill="#000" >Adult</text>
<text x="623.52" y="450.30" font-size="11.80" font-weight="700" textLength="28.01" lengthAdjust="spacingAndGlyphs" fill="#000" >Aged</text>
<text x="474.38" y="503.80" font-size="12.20" font-weight="700" textLength="28.21" lengthAdjust="spacingAndGlyphs" fill="#000" >Male</text>
<text x="462.85" y="586.60" font-size="12.20" font-weight="700" textLength="39.67" lengthAdjust="spacingAndGlyphs" fill="#000" >Female</text>
<defs><filter id="gb1" x="-20%" y="-20%" width="140%" height="140%"><feGaussianBlur stdDeviation="1.1"/></filter><filter id="gb2" x="-20%" y="-20%" width="140%" height="140%"><feGaussianBlur stdDeviation="0.75"/></filter><filter id="gb3" x="-50%" y="-50%" width="200%" height="200%"><feGaussianBlur stdDeviation="1.6"/></filter></defs>
<rect x="509.5" y="459.6" width="82.5" height="78.8" fill="#f7f7f7"/>
<clipPath id="gc0"><ellipse cx="550.6" cy="499.0" rx="40.1" ry="38.7"/></clipPath>
<g clip-path="url(#gc0)">
<ellipse cx="550.6" cy="499.0" rx="40.1" ry="38.7" fill="#0000fa"/>
<g filter="url(#gb1)" opacity="0.45">
<polyline points="517.78,488.33 520.77,494.91 523.17,502.09 525.56,509.28 527.96,516.46 531.55,521.25 538.73,523.64 545.91,524.84 548.31,528.43 553.09,529.62 557.88,528.43 560.28,526.03" fill="none" stroke="#3d8cff" stroke-width="4.6" stroke-linejoin="round" stroke-linecap="round"/>
<polyline points="533.94,505.09 538.73,504.49 543.52,503.29 545.91,505.68 547.11,509.28 545.91,514.06 545.91,518.85 549.50,521.25 554.29,520.05 557.88,516.46 555.49,512.87 551.90,509.28 548.31,505.68 548.31,499.70 548.31,491.32 547.11,484.14 544.71,480.55 539.93,480.55 533.94,482.94 530.95,487.73 532.74,492.52 538.73,494.91 547.11,498.50" fill="none" stroke="#3d8cff" stroke-width="4.6" stroke-linejoin="round" stroke-linecap="round"/>
<polyline points="547.11,498.50 551.90,494.91 557.88,491.32 563.87,489.52 568.65,488.93" fill="none" stroke="#3d8cff" stroke-width="4.6" stroke-linejoin="round" stroke-linecap="round"/>
<polyline points="544.71,510.47 548.31,512.87 553.09,515.26 559.08,515.26" fill="none" stroke="#3d8cff" stroke-width="4.6" stroke-linejoin="round" stroke-linecap="round"/>
<polyline points="549.50,524.84 555.49,526.03 560.28,523.64" fill="none" stroke="#3d8cff" stroke-width="4.6" stroke-linejoin="round" stroke-linecap="round"/>
</g>
<g filter="url(#gb2)">
<polyline points="517.78,488.33 520.77,494.91 523.17,502.09 525.56,509.28 527.96,516.46 531.55,521.25 538.73,523.64 545.91,524.84 548.31,528.43 553.09,529.62 557.88,528.43 560.28,526.03" fill="none" stroke="#3d8cff" stroke-width="2.5" stroke-linejoin="round" stroke-linecap="round"/>
<polyline points="533.94,505.09 538.73,504.49 543.52,503.29 545.91,505.68 547.11,509.28 545.91,514.06 545.91,518.85 549.50,521.25 554.29,520.05 557.88,516.46 555.49,512.87 551.90,509.28 548.31,505.68 548.31,499.70 548.31,491.32 547.11,484.14 544.71,480.55 539.93,480.55 533.94,482.94 530.95,487.73 532.74,492.52 538.73,494.91 547.11,498.50" fill="none" stroke="#3d8cff" stroke-width="2.5" stroke-linejoin="round" stroke-linecap="round"/>
<polyline points="547.11,498.50 551.90,494.91 557.88,491.32 563.87,489.52 568.65,488.93" fill="none" stroke="#3d8cff" stroke-width="2.5" stroke-linejoin="round" stroke-linecap="round"/>
<polyline points="544.71,510.47 548.31,512.87 553.09,515.26 559.08,515.26" fill="none" stroke="#3d8cff" stroke-width="2.5" stroke-linejoin="round" stroke-linecap="round"/>
<polyline points="549.50,524.84 555.49,526.03 560.28,523.64" fill="none" stroke="#3d8cff" stroke-width="2.5" stroke-linejoin="round" stroke-linecap="round"/>
<polyline points="568.50,500.00 568.00,493.00 568.50,488.00 572.00,485.50 575.00,484.50" fill="none" stroke="#10e4ff" stroke-width="2.8" stroke-linejoin="round" stroke-linecap="round"/>
<polyline points="575.00,484.50 574.50,491.00 574.00,498.00" fill="none" stroke="#10e4ff" stroke-width="2.8" stroke-linejoin="round" stroke-linecap="round"/>
<polyline points="579.00,489.00 580.00,494.00 580.50,500.00" fill="none" stroke="#10e4ff" stroke-width="2.8" stroke-linejoin="round" stroke-linecap="round"/>
<polyline points="572.00,497.00 576.00,499.00 580.00,501.00" fill="none" stroke="#10e4ff" stroke-width="2.8" stroke-linejoin="round" stroke-linecap="round"/>
<polygon points="561,503 566,501 572,500 577,502 580,505 583,508 583,513 580,516 576,517 578,520 575,523 570,522 566,525 561,527 558,524 559,519 562,516 560,512 559,507" fill="#7af048" stroke="#30e8f0" stroke-width="1.8" stroke-linejoin="round"/>
<circle cx="568.6" cy="514" r="2.4" fill="#30e8f0"/>
<circle cx="571" cy="508" r="1.5" fill="#30e8f0"/>
<circle cx="578" cy="509.5" r="1.4" fill="#0000fa"/>
<circle cx="565" cy="507.5" r="1.0" fill="#0000fa"/>
<circle cx="567.5" cy="520" r="1.0" fill="#0000fa"/>
</g>
<line x1="508.60" y1="499.00" x2="592.60" y2="499.00" stroke="#c8642c" stroke-width="0.7" />
<line x1="551.10" y1="459.00" x2="551.10" y2="539.00" stroke="#c8642c" stroke-width="0.7" />
<circle cx="568.6" cy="513.8" r="6.0" fill="none" stroke="#c8642c" stroke-width="0.7"/>
<circle cx="568.6" cy="513.8" r="2.2" fill="none" stroke="#c8642c" stroke-width="0.6"/>
</g>
<ellipse cx="550.6" cy="499.0" rx="40.1" ry="38.7" fill="none" stroke="#d08040" stroke-width="0.5" opacity="0.5"/>
<rect x="596.5" y="459.6" width="83.0" height="78.8" fill="#f7f7f7"/>
<clipPath id="gc1"><ellipse cx="637.6" cy="498.7" rx="40.1" ry="39.0"/></clipPath>
<g clip-path="url(#gc1)">
<ellipse cx="637.6" cy="498.7" rx="40.1" ry="39.0" fill="#0000fa"/>
<g filter="url(#gb1)" opacity="0.45">
<polyline points="612.56,484.74 620.94,480.55 629.32,475.76 635.31,472.17 638.30,470.37 640.09,468.58 642.49,467.38 647.28,467.98 650.87,470.37 653.26,473.36" fill="none" stroke="#40b8ff" stroke-width="4.6" stroke-linejoin="round" stroke-linecap="round"/>
<polyline points="638.30,470.37 642.49,474.56 644.88,479.35 648.47,486.53 652.06,492.52 655.65,498.50 658.05,503.29" fill="none" stroke="#40b8ff" stroke-width="4.6" stroke-linejoin="round" stroke-linecap="round"/>
<polyline points="653.26,473.36 656.85,478.15 661.64,482.94 664.03,488.93 666.43,493.71 667.62,499.70 667.62,506.88 665.23,512.87 661.64,518.85 656.85,523.64 649.67,526.03 644.88,526.03 641.29,523.64" fill="none" stroke="#40b8ff" stroke-width="4.6" stroke-linejoin="round" stroke-linecap="round"/>
<polyline points="612.56,484.74 611.36,490.12 610.17,494.91 610.17,500.90 611.36,505.68 608.97,508.08 605.38,512.87 604.78,514.06" fill="none" stroke="#40b8ff" stroke-width="4.6" stroke-linejoin="round" stroke-linecap="round"/>
<polyline points="618.55,500.90 620.94,497.31 626.93,494.91 635.31,493.71 642.49,494.91 648.47,497.31 653.26,500.90 655.65,505.68 655.65,510.47 653.26,514.06 648.47,516.46 642.49,516.46 634.11,515.26 628.12,512.87 623.33,509.28 619.74,505.68 618.55,500.90" fill="none" stroke="#40b8ff" stroke-width="4.6" stroke-linejoin="round" stroke-linecap="round"/>
<polyline points="616.15,491.32 616.15,497.31 617.35,503.29 620.94,508.08 625.73,511.67 628.12,516.46 630.52,520.05 636.50,522.44 642.49,522.44 647.28,521.25 650.87,518.85 654.46,515.26" fill="none" stroke="#40b8ff" stroke-width="4.6" stroke-linejoin="round" stroke-linecap="round"/>
<polyline points="614.96,486.53 620.94,488.93 628.12,490.12 634.11,492.52 638.90,494.91" fill="none" stroke="#40b8ff" stroke-width="4.6" stroke-linejoin="round" stroke-linecap="round"/>
<polyline points="636.50,463.79 640.09,462.59 642.49,464.39" fill="none" stroke="#40b8ff" stroke-width="4.6" stroke-linejoin="round" stroke-linecap="round"/>
<polyline points="638.90,494.91 642.49,500.90 647.28,506.88 652.06,511.67 655.65,512.87" fill="none" stroke="#40b8ff" stroke-width="4.6" stroke-linejoin="round" stroke-linecap="round"/>
<polyline points="611.36,505.68 614.96,509.28 620.94,514.06 626.93,518.85 632.91,521.25" fill="none" stroke="#40b8ff" stroke-width="4.6" stroke-linejoin="round" stroke-linecap="round"/>
</g>
<g filter="url(#gb2)">
<polyline points="612.56,484.74 620.94,480.55 629.32,475.76 635.31,472.17 638.30,470.37 640.09,468.58 642.49,467.38 647.28,467.98 650.87,470.37 653.26,473.36" fill="none" stroke="#40b8ff" stroke-width="2.5" stroke-linejoin="round" stroke-linecap="round"/>
<polyline points="638.30,470.37 642.49,474.56 644.88,479.35 648.47,486.53 652.06,492.52 655.65,498.50 658.05,503.29" fill="none" stroke="#40b8ff" stroke-width="2.5" stroke-linejoin="round" stroke-linecap="round"/>
<polyline points="653.26,473.36 656.85,478.15 661.64,482.94 664.03,488.93 666.43,493.71 667.62,499.70 667.62,506.88 665.23,512.87 661.64,518.85 656.85,523.64 649.67,526.03 644.88,526.03 641.29,523.64" fill="none" stroke="#40b8ff" stroke-width="2.5" stroke-linejoin="round" stroke-linecap="round"/>
<polyline points="612.56,484.74 611.36,490.12 610.17,494.91 610.17,500.90 611.36,505.68 608.97,508.08 605.38,512.87 604.78,514.06" fill="none" stroke="#40b8ff" stroke-width="2.5" stroke-linejoin="round" stroke-linecap="round"/>
<polyline points="618.55,500.90 620.94,497.31 626.93,494.91 635.31,493.71 642.49,494.91 648.47,497.31 653.26,500.90 655.65,505.68 655.65,510.47 653.26,514.06 648.47,516.46 642.49,516.46 634.11,515.26 628.12,512.87 623.33,509.28 619.74,505.68 618.55,500.90" fill="none" stroke="#40b8ff" stroke-width="2.5" stroke-linejoin="round" stroke-linecap="round"/>
<polyline points="616.15,491.32 616.15,497.31 617.35,503.29 620.94,508.08 625.73,511.67 628.12,516.46 630.52,520.05 636.50,522.44 642.49,522.44 647.28,521.25 650.87,518.85 654.46,515.26" fill="none" stroke="#40b8ff" stroke-width="2.5" stroke-linejoin="round" stroke-linecap="round"/>
<polyline points="614.96,486.53 620.94,488.93 628.12,490.12 634.11,492.52 638.90,494.91" fill="none" stroke="#40b8ff" stroke-width="2.5" stroke-linejoin="round" stroke-linecap="round"/>
<polyline points="636.50,463.79 640.09,462.59 642.49,464.39" fill="none" stroke="#40b8ff" stroke-width="2.5" stroke-linejoin="round" stroke-linecap="round"/>
<polyline points="638.90,494.91 642.49,500.90 647.28,506.88 652.06,511.67 655.65,512.87" fill="none" stroke="#40b8ff" stroke-width="2.5" stroke-linejoin="round" stroke-linecap="round"/>
<polyline points="611.36,505.68 614.96,509.28 620.94,514.06 626.93,518.85 632.91,521.25" fill="none" stroke="#40b8ff" stroke-width="2.5" stroke-linejoin="round" stroke-linecap="round"/>
<polyline points="612.56,484.74 620.94,480.55 629.32,475.76 635.31,472.17 638.30,470.37 640.09,468.58 642.49,467.38 647.28,467.98 650.87,470.37 653.26,473.36" fill="none" stroke="#70e8ff" stroke-width="1.0" stroke-linejoin="round" stroke-linecap="round" opacity="0.8"/>
<polyline points="638.30,470.37 642.49,474.56 644.88,479.35 648.47,486.53 652.06,492.52 655.65,498.50 658.05,503.29" fill="none" stroke="#70e8ff" stroke-width="1.0" stroke-linejoin="round" stroke-linecap="round" opacity="0.8"/>
<polyline points="653.26,473.36 656.85,478.15 661.64,482.94 664.03,488.93 666.43,493.71 667.62,499.70 667.62,506.88 665.23,512.87 661.64,518.85 656.85,523.64 649.67,526.03 644.88,526.03 641.29,523.64" fill="none" stroke="#70e8ff" stroke-width="1.0" stroke-linejoin="round" stroke-linecap="round" opacity="0.8"/>
<polyline points="612.56,484.74 611.36,490.12 610.17,494.91 610.17,500.90 611.36,505.68 608.97,508.08 605.38,512.87 604.78,514.06" fill="none" stroke="#70e8ff" stroke-width="1.0" stroke-linejoin="round" stroke-linecap="round" opacity="0.8"/>
<polyline points="618.55,500.90 620.94,497.31 626.93,494.91 635.31,493.71 642.49,494.91 648.47,497.31 653.26,500.90 655.65,505.68 655.65,510.47 653.26,514.06 648.47,516.46 642.49,516.46 634.11,515.26 628.12,512.87 623.33,509.28 619.74,505.68 618.55,500.90" fill="none" stroke="#70e8ff" stroke-width="1.0" stroke-linejoin="round" stroke-linecap="round" opacity="0.8"/>
<polyline points="616.15,491.32 616.15,497.31 617.35,503.29 620.94,508.08 625.73,511.67 628.12,516.46 630.52,520.05 636.50,522.44 642.49,522.44 647.28,521.25 650.87,518.85 654.46,515.26" fill="none" stroke="#70e8ff" stroke-width="1.0" stroke-linejoin="round" stroke-linecap="round" opacity="0.8"/>
<polyline points="614.96,486.53 620.94,488.93 628.12,490.12 634.11,492.52 638.90,494.91" fill="none" stroke="#70e8ff" stroke-width="1.0" stroke-linejoin="round" stroke-linecap="round" opacity="0.8"/>
<polyline points="636.50,463.79 640.09,462.59 642.49,464.39" fill="none" stroke="#70e8ff" stroke-width="1.0" stroke-linejoin="round" stroke-linecap="round" opacity="0.8"/>
<polyline points="638.90,494.91 642.49,500.90 647.28,506.88 652.06,511.67 655.65,512.87" fill="none" stroke="#70e8ff" stroke-width="1.0" stroke-linejoin="round" stroke-linecap="round" opacity="0.8"/>
<polyline points="611.36,505.68 614.96,509.28 620.94,514.06 626.93,518.85 632.91,521.25" fill="none" stroke="#70e8ff" stroke-width="1.0" stroke-linejoin="round" stroke-linecap="round" opacity="0.8"/>
</g>
<g filter="url(#gb2)">
<circle cx="655.65" cy="512.27" r="2.87" fill="#70f060"/>
<circle cx="648.47" cy="521.25" r="2.15" fill="#70f060"/>
<circle cx="652.06" cy="470.97" r="1.44" fill="#70f060"/>
<circle cx="663.44" cy="484.74" r="1.08" fill="#70f060"/>
<circle cx="605.38" cy="513.46" r="1.80" fill="#70f060"/>
<circle cx="620.94" cy="504.49" r="1.44" fill="#70f060"/>
<circle cx="616.15" cy="485.93" r="1.20" fill="#70f060"/>
</g>
<line x1="595.60" y1="498.70" x2="679.60" y2="498.70" stroke="#c8642c" stroke-width="0.7" />
<line x1="638.10" y1="458.70" x2="638.10" y2="538.70" stroke="#c8642c" stroke-width="0.7" />
<circle cx="656.5" cy="513.6" r="6.0" fill="none" stroke="#c8642c" stroke-width="0.7"/>
<circle cx="656.5" cy="513.6" r="2.2" fill="none" stroke="#c8642c" stroke-width="0.6"/>
</g>
<ellipse cx="637.6" cy="498.7" rx="40.1" ry="39.0" fill="none" stroke="#d08040" stroke-width="0.5" opacity="0.5"/>
<rect x="509.5" y="543.0" width="82.5" height="78.4" fill="#f7f7f7"/>
<clipPath id="gc2"><ellipse cx="550.6" cy="582.4" rx="40.0" ry="38.4"/></clipPath>
<g clip-path="url(#gc2)">
<ellipse cx="550.6" cy="582.4" rx="40.0" ry="38.4" fill="#0000fa"/>
<g filter="url(#gb1)" opacity="0.45">
<polyline points="550.70,549.58 545.91,550.78 541.12,552.58 536.33,557.36 532.74,563.35 531.55,569.33 532.74,575.32 535.14,580.11 538.73,583.70" fill="none" stroke="#2a6cff" stroke-width="4.6" stroke-linejoin="round" stroke-linecap="round"/>
<polyline points="549.50,550.18 547.11,557.36 544.71,564.55 542.32,570.53 541.12,577.71 542.32,582.50" fill="none" stroke="#2a6cff" stroke-width="4.6" stroke-linejoin="round" stroke-linecap="round"/>
<polyline points="551.30,549.58 554.29,554.97 557.88,559.76 562.67,563.35 567.46,564.55 568.65,568.14" fill="none" stroke="#2a6cff" stroke-width="4.6" stroke-linejoin="round" stroke-linecap="round"/>
<polyline points="539.93,577.71 542.32,574.12 545.91,571.73 550.70,571.13 555.49,572.93 559.08,575.32" fill="none" stroke="#2a6cff" stroke-width="4.6" stroke-linejoin="round" stroke-linecap="round"/>
<polyline points="530.35,589.68 531.55,592.08 536.33,594.47 541.12,595.67" fill="none" stroke="#2a6cff" stroke-width="4.6" stroke-linejoin="round" stroke-linecap="round"/>
<polyline points="530.35,589.68 533.94,587.29 538.73,586.09 543.52,587.29" fill="none" stroke="#2a6cff" stroke-width="4.6" stroke-linejoin="round" stroke-linecap="round"/>
</g>
<g filter="url(#gb2)">
<polyline points="550.70,549.58 545.91,550.78 541.12,552.58 536.33,557.36 532.74,563.35 531.55,569.33 532.74,575.32 535.14,580.11 538.73,583.70" fill="none" stroke="#2a6cff" stroke-width="2.5" stroke-linejoin="round" stroke-linecap="round"/>
<polyline points="549.50,550.18 547.11,557.36 544.71,564.55 542.32,570.53 541.12,577.71 542.32,582.50" fill="none" stroke="#2a6cff" stroke-width="2.5" stroke-linejoin="round" stroke-linecap="round"/>
<polyline points="551.30,549.58 554.29,554.97 557.88,559.76 562.67,563.35 567.46,564.55 568.65,568.14" fill="none" stroke="#2a6cff" stroke-width="2.5" stroke-linejoin="round" stroke-linecap="round"/>
<polyline points="539.93,577.71 542.32,574.12 545.91,571.73 550.70,571.13 555.49,572.93 559.08,575.32" fill="none" stroke="#2a6cff" stroke-width="2.5" stroke-linejoin="round" stroke-linecap="round"/>
<polyline points="530.35,589.68 531.55,592.08 536.33,594.47 541.12,595.67" fill="none" stroke="#2a6cff" stroke-width="2.5" stroke-linejoin="round" stroke-linecap="round"/>
<polyline points="530.35,589.68 533.94,587.29 538.73,586.09 543.52,587.29" fill="none" stroke="#2a6cff" stroke-width="2.5" stroke-linejoin="round" stroke-linecap="round"/>
<polyline points="542.32,599.26 545.91,595.67 550.70,593.28 555.49,590.88 560.28,588.49 563.87,583.70 566.26,580.11 567.46,576.52 568.65,570.53 569.85,565.74" fill="none" stroke="#10e4ff" stroke-width="2.8" stroke-linejoin="round" stroke-linecap="round"/>
<polyline points="543.52,601.65 549.50,602.85 555.49,601.65 560.28,599.26 563.87,595.67 567.46,593.28 571.05,590.88 574.64,588.49 577.03,583.70 575.84,580.11" fill="none" stroke="#10e4ff" stroke-width="2.8" stroke-linejoin="round" stroke-linecap="round"/>
<polyline points="545.91,598.06 549.50,595.67 553.09,595.67 557.88,593.28 561.47,590.88 565.06,588.49 568.65,587.29 571.05,584.90" fill="none" stroke="#10e4ff" stroke-width="2.8" stroke-linejoin="round" stroke-linecap="round"/>
<polyline points="560.28,578.91 562.67,577.71 565.06,580.11 563.87,583.70 561.47,586.09" fill="none" stroke="#10e4ff" stroke-width="2.8" stroke-linejoin="round" stroke-linecap="round"/>
<polyline points="553.09,599.26 555.49,595.67 557.88,592.08 560.28,593.28 562.67,590.88" fill="none" stroke="#10e4ff" stroke-width="2.8" stroke-linejoin="round" stroke-linecap="round"/>
<polyline points="557.88,586.09 560.28,583.70 562.67,582.50" fill="none" stroke="#10e4ff" stroke-width="2.8" stroke-linejoin="round" stroke-linecap="round"/>
<polyline points="562.67,578.91 563.87,574.12 566.26,571.73" fill="none" stroke="#10e4ff" stroke-width="2.8" stroke-linejoin="round" stroke-linecap="round"/>
<polyline points="544.71,600.46 548.31,599.26 551.90,598.06 555.49,596.87 559.08,595.67 562.67,593.28 566.26,590.88 569.85,588.49 573.44,586.09 575.84,582.50" fill="none" stroke="#10e4ff" stroke-width="2.8" stroke-linejoin="round" stroke-linecap="round"/>
<polyline points="547.11,594.47 550.70,590.88 554.29,588.49 557.88,587.29 561.47,586.09 566.26,583.70 569.85,581.31 572.25,578.91" fill="none" stroke="#10e4ff" stroke-width="2.8" stroke-linejoin="round" stroke-linecap="round"/>
<polyline points="541.12,598.06 544.71,596.87 548.31,594.47" fill="none" stroke="#10e4ff" stroke-width="2.8" stroke-linejoin="round" stroke-linecap="round"/>
<polyline points="555.49,593.28 559.08,590.88 562.67,588.49 565.06,586.09 567.46,583.70" fill="none" stroke="#10e4ff" stroke-width="2.8" stroke-linejoin="round" stroke-linecap="round"/>
<circle cx="557.88" cy="588.49" r="1.08" fill="#70f060"/>
<circle cx="554.29" cy="592.08" r="0.96" fill="#70f060"/>
<circle cx="568.65" cy="590.88" r="1.08" fill="#70f060"/>
<circle cx="549.50" cy="595.67" r="0.72" fill="#70f060"/>
</g>
<line x1="508.60" y1="582.40" x2="592.60" y2="582.40" stroke="#c8642c" stroke-width="0.7" />
<line x1="551.10" y1="542.40" x2="551.10" y2="622.40" stroke="#c8642c" stroke-width="0.7" />
<circle cx="569.1" cy="597.4" r="6.0" fill="none" stroke="#c8642c" stroke-width="0.7"/>
<circle cx="569.1" cy="597.4" r="2.2" fill="none" stroke="#c8642c" stroke-width="0.6"/>
</g>
<ellipse cx="550.6" cy="582.4" rx="40.0" ry="38.4" fill="none" stroke="#d08040" stroke-width="0.5" opacity="0.5"/>
<rect x="596.5" y="543.0" width="83.0" height="78.4" fill="#f7f7f7"/>
<clipPath id="gc3"><ellipse cx="637.5" cy="582.8" rx="39.3" ry="38.3"/></clipPath>
<g clip-path="url(#gc3)">
<ellipse cx="637.5" cy="582.8" rx="39.3" ry="38.3" fill="#0000fa"/>
<g filter="url(#gb1)" opacity="0.45">
<polyline points="605.98,566.34 608.97,564.55 613.76,564.55 617.35,566.94 619.74,570.53 620.94,574.12 622.14,578.91 624.53,584.90 628.12,589.68 631.71,590.88 635.31,589.68" fill="none" stroke="#30b0ff" stroke-width="4.6" stroke-linejoin="round" stroke-linecap="round"/>
<polyline points="624.53,563.35 628.12,558.56 632.91,555.57 637.70,554.97" fill="none" stroke="#30b0ff" stroke-width="4.6" stroke-linejoin="round" stroke-linecap="round"/>
<polyline points="641.29,550.18 644.88,550.18 649.67,553.77 653.26,558.56 655.65,564.55 656.25,569.33 654.46,574.12 653.26,577.71 648.47,581.31 646.08,586.09 646.08,590.88 647.28,595.67 649.67,600.46 653.26,602.85 658.05,604.05 661.64,604.05" fill="none" stroke="#30b0ff" stroke-width="4.6" stroke-linejoin="round" stroke-linecap="round"/>
<polyline points="637.70,554.97 635.31,558.56 631.71,562.15 629.32,565.74 629.32,570.53 632.91,571.73 638.90,571.73 644.88,571.73 650.87,571.13 655.65,569.33 660.44,566.94 665.23,565.74 667.62,568.14 667.62,574.12 666.43,578.91 666.43,583.70 668.82,588.49" fill="none" stroke="#30b0ff" stroke-width="4.6" stroke-linejoin="round" stroke-linecap="round"/>
<polyline points="614.96,569.33 614.96,576.52 616.15,582.50 616.15,588.49 618.55,590.88 622.14,590.88" fill="none" stroke="#30b0ff" stroke-width="4.6" stroke-linejoin="round" stroke-linecap="round"/>
<polyline points="623.33,570.53 622.14,575.32 620.94,581.31 622.14,587.29 625.73,593.28 628.12,594.47" fill="none" stroke="#30b0ff" stroke-width="4.6" stroke-linejoin="round" stroke-linecap="round"/>
<polyline points="640.09,572.93 642.49,577.71 642.49,582.50 640.09,588.49 636.50,593.28 635.31,595.67 637.70,599.26 640.09,601.65 642.49,606.44 644.88,608.84 649.67,612.43 652.06,612.43 654.46,610.03 659.25,607.64 661.64,605.25 662.84,602.85" fill="none" stroke="#30b0ff" stroke-width="4.6" stroke-linejoin="round" stroke-linecap="round"/>
<polyline points="612.56,606.44 616.15,602.85 620.94,601.65 625.73,601.65 630.52,599.26 632.91,598.06 636.50,596.87" fill="none" stroke="#30b0ff" stroke-width="4.6" stroke-linejoin="round" stroke-linecap="round"/>
<polyline points="612.56,606.44 618.55,605.25 624.53,602.85" fill="none" stroke="#30b0ff" stroke-width="4.6" stroke-linejoin="round" stroke-linecap="round"/>
<polyline points="624.53,593.28 628.12,594.47 632.91,594.47" fill="none" stroke="#30b0ff" stroke-width="4.6" stroke-linejoin="round" stroke-linecap="round"/>
<polyline points="617.35,566.94 620.94,564.55 624.53,563.35" fill="none" stroke="#30b0ff" stroke-width="4.6" stroke-linejoin="round" stroke-linecap="round"/>
<polyline points="629.32,570.53 626.93,574.12 624.53,578.91 625.13,583.70 627.52,588.49 630.52,590.88" fill="none" stroke="#30b0ff" stroke-width="4.6" stroke-linejoin="round" stroke-linecap="round"/>
<polyline points="642.49,582.50 644.88,578.91 648.47,576.52 653.26,576.52" fill="none" stroke="#30b0ff" stroke-width="4.6" stroke-linejoin="round" stroke-linecap="round"/>
<polyline points="655.65,569.33 654.46,564.55 652.06,559.76 648.47,556.17 644.88,554.37" fill="none" stroke="#30b0ff" stroke-width="4.6" stroke-linejoin="round" stroke-linecap="round"/>
<polyline points="635.31,589.68 637.10,593.28 638.90,596.87" fill="none" stroke="#30b0ff" stroke-width="4.6" stroke-linejoin="round" stroke-linecap="round"/>
</g>
<g filter="url(#gb2)">
<polyline points="605.98,566.34 608.97,564.55 613.76,564.55 617.35,566.94 619.74,570.53 620.94,574.12 622.14,578.91 624.53,584.90 628.12,589.68 631.71,590.88 635.31,589.68" fill="none" stroke="#30b0ff" stroke-width="2.5" stroke-linejoin="round" stroke-linecap="round"/>
<polyline points="624.53,563.35 628.12,558.56 632.91,555.57 637.70,554.97" fill="none" stroke="#30b0ff" stroke-width="2.5" stroke-linejoin="round" stroke-linecap="round"/>
<polyline points="641.29,550.18 644.88,550.18 649.67,553.77 653.26,558.56 655.65,564.55 656.25,569.33 654.46,574.12 653.26,577.71 648.47,581.31 646.08,586.09 646.08,590.88 647.28,595.67 649.67,600.46 653.26,602.85 658.05,604.05 661.64,604.05" fill="none" stroke="#30b0ff" stroke-width="2.5" stroke-linejoin="round" stroke-linecap="round"/>
<polyline points="637.70,554.97 635.31,558.56 631.71,562.15 629.32,565.74 629.32,570.53 632.91,571.73 638.90,571.73 644.88,571.73 650.87,571.13 655.65,569.33 660.44,566.94 665.23,565.74 667.62,568.14 667.62,574.12 666.43,578.91 666.43,583.70 668.82,588.49" fill="none" stroke="#30b0ff" stroke-width="2.5" stroke-linejoin="round" stroke-linecap="round"/>
<polyline points="614.96,569.33 614.96,576.52 616.15,582.50 616.15,588.49 618.55,590.88 622.14,590.88" fill="none" stroke="#30b0ff" stroke-width="2.5" stroke-linejoin="round" stroke-linecap="round"/>
<polyline points="623.33,570.53 622.14,575.32 620.94,581.31 622.14,587.29 625.73,593.28 628.12,594.47" fill="none" stroke="#30b0ff" stroke-width="2.5" stroke-linejoin="round" stroke-linecap="round"/>
<polyline points="640.09,572.93 642.49,577.71 642.49,582.50 640.09,588.49 636.50,593.28 635.31,595.67 637.70,599.26 640.09,601.65 642.49,606.44 644.88,608.84 649.67,612.43 652.06,612.43 654.46,610.03 659.25,607.64 661.64,605.25 662.84,602.85" fill="none" stroke="#30b0ff" stroke-width="2.5" stroke-linejoin="round" stroke-linecap="round"/>
<polyline points="612.56,606.44 616.15,602.85 620.94,601.65 625.73,601.65 630.52,599.26 632.91,598.06 636.50,596.87" fill="none" stroke="#30b0ff" stroke-width="2.5" stroke-linejoin="round" stroke-linecap="round"/>
<polyline points="612.56,606.44 618.55,605.25 624.53,602.85" fill="none" stroke="#30b0ff" stroke-width="2.5" stroke-linejoin="round" stroke-linecap="round"/>
<polyline points="624.53,593.28 628.12,594.47 632.91,594.47" fill="none" stroke="#30b0ff" stroke-width="2.5" stroke-linejoin="round" stroke-linecap="round"/>
<polyline points="617.35,566.94 620.94,564.55 624.53,563.35" fill="none" stroke="#30b0ff" stroke-width="2.5" stroke-linejoin="round" stroke-linecap="round"/>
<polyline points="629.32,570.53 626.93,574.12 624.53,578.91 625.13,583.70 627.52,588.49 630.52,590.88" fill="none" stroke="#30b0ff" stroke-width="2.5" stroke-linejoin="round" stroke-linecap="round"/>
<polyline points="642.49,582.50 644.88,578.91 648.47,576.52 653.26,576.52" fill="none" stroke="#30b0ff" stroke-width="2.5" stroke-linejoin="round" stroke-linecap="round"/>
<polyline points="655.65,569.33 654.46,564.55 652.06,559.76 648.47,556.17 644.88,554.37" fill="none" stroke="#30b0ff" stroke-width="2.5" stroke-linejoin="round" stroke-linecap="round"/>
<polyline points="635.31,589.68 637.10,593.28 638.90,596.87" fill="none" stroke="#30b0ff" stroke-width="2.5" stroke-linejoin="round" stroke-linecap="round"/>
<polyline points="605.98,566.34 608.97,564.55 613.76,564.55 617.35,566.94 619.74,570.53 620.94,574.12 622.14,578.91 624.53,584.90 628.12,589.68 631.71,590.88 635.31,589.68" fill="none" stroke="#50dcff" stroke-width="1.0" stroke-linejoin="round" stroke-linecap="round" opacity="0.8"/>
<polyline points="624.53,563.35 628.12,558.56 632.91,555.57 637.70,554.97" fill="none" stroke="#50dcff" stroke-width="1.0" stroke-linejoin="round" stroke-linecap="round" opacity="0.8"/>
<polyline points="641.29,550.18 644.88,550.18 649.67,553.77 653.26,558.56 655.65,564.55 656.25,569.33 654.46,574.12 653.26,577.71 648.47,581.31 646.08,586.09 646.08,590.88 647.28,595.67 649.67,600.46 653.26,602.85 658.05,604.05 661.64,604.05" fill="none" stroke="#50dcff" stroke-width="1.0" stroke-linejoin="round" stroke-linecap="round" opacity="0.8"/>
<polyline points="637.70,554.97 635.31,558.56 631.71,562.15 629.32,565.74 629.32,570.53 632.91,571.73 638.90,571.73 644.88,571.73 650.87,571.13 655.65,569.33 660.44,566.94 665.23,565.74 667.62,568.14 667.62,574.12 666.43,578.91 666.43,583.70 668.82,588.49" fill="none" stroke="#50dcff" stroke-width="1.0" stroke-linejoin="round" stroke-linecap="round" opacity="0.8"/>
<polyline points="614.96,569.33 614.96,576.52 616.15,582.50 616.15,588.49 618.55,590.88 622.14,590.88" fill="none" stroke="#50dcff" stroke-width="1.0" stroke-linejoin="round" stroke-linecap="round" opacity="0.8"/>
<polyline points="623.33,570.53 622.14,575.32 620.94,581.31 622.14,587.29 625.73,593.28 628.12,594.47" fill="none" stroke="#50dcff" stroke-width="1.0" stroke-linejoin="round" stroke-linecap="round" opacity="0.8"/>
<polyline points="640.09,572.93 642.49,577.71 642.49,582.50 640.09,588.49 636.50,593.28 635.31,595.67 637.70,599.26 640.09,601.65 642.49,606.44 644.88,608.84 649.67,612.43 652.06,612.43 654.46,610.03 659.25,607.64 661.64,605.25 662.84,602.85" fill="none" stroke="#50dcff" stroke-width="1.0" stroke-linejoin="round" stroke-linecap="round" opacity="0.8"/>
<polyline points="612.56,606.44 616.15,602.85 620.94,601.65 625.73,601.65 630.52,599.26 632.91,598.06 636.50,596.87" fill="none" stroke="#50dcff" stroke-width="1.0" stroke-linejoin="round" stroke-linecap="round" opacity="0.8"/>
<polyline points="612.56,606.44 618.55,605.25 624.53,602.85" fill="none" stroke="#50dcff" stroke-width="1.0" stroke-linejoin="round" stroke-linecap="round" opacity="0.8"/>
<polyline points="624.53,593.28 628.12,594.47 632.91,594.47" fill="none" stroke="#50dcff" stroke-width="1.0" stroke-linejoin="round" stroke-linecap="round" opacity="0.8"/>
<polyline points="617.35,566.94 620.94,564.55 624.53,563.35" fill="none" stroke="#50dcff" stroke-width="1.0" stroke-linejoin="round" stroke-linecap="round" opacity="0.8"/>
<polyline points="629.32,570.53 626.93,574.12 624.53,578.91 625.13,583.70 627.52,588.49 630.52,590.88" fill="none" stroke="#50dcff" stroke-width="1.0" stroke-linejoin="round" stroke-linecap="round" opacity="0.8"/>
<polyline points="642.49,582.50 644.88,578.91 648.47,576.52 653.26,576.52" fill="none" stroke="#50dcff" stroke-width="1.0" stroke-linejoin="round" stroke-linecap="round" opacity="0.8"/>
<polyline points="655.65,569.33 654.46,564.55 652.06,559.76 648.47,556.17 644.88,554.37" fill="none" stroke="#50dcff" stroke-width="1.0" stroke-linejoin="round" stroke-linecap="round" opacity="0.8"/>
<polyline points="635.31,589.68 637.10,593.28 638.90,596.87" fill="none" stroke="#50dcff" stroke-width="1.0" stroke-linejoin="round" stroke-linecap="round" opacity="0.8"/>
<circle cx="668.82" cy="589.09" r="1.44" fill="#30f0ff"/>
<circle cx="612.56" cy="605.84" r="1.20" fill="#30f0ff"/>
<circle cx="625.73" cy="594.47" r="0.96" fill="#30f0ff"/>
<circle cx="641.29" cy="550.18" r="0.96" fill="#30f0ff"/>
</g>
<g filter="url(#gb2)">
<circle cx="658.65" cy="606.44" r="1.68" fill="#50ff70"/>
</g>
<line x1="595.50" y1="582.80" x2="679.50" y2="582.80" stroke="#c8642c" stroke-width="0.7" />
<line x1="638.00" y1="542.80" x2="638.00" y2="622.80" stroke="#c8642c" stroke-width="0.7" />
<circle cx="655.4" cy="597.5" r="6.0" fill="none" stroke="#c8642c" stroke-width="0.7"/>
<circle cx="655.4" cy="597.5" r="2.2" fill="none" stroke="#c8642c" stroke-width="0.6"/>
</g>
<ellipse cx="637.5" cy="582.8" rx="39.3" ry="38.3" fill="none" stroke="#d08040" stroke-width="0.5" opacity="0.5"/>
<text x="454.61" y="656.30" font-size="14.00" font-weight="700" textLength="10.56" lengthAdjust="spacingAndGlyphs" fill="#000" >J.</text>
<line x1="535.20" y1="669.40" x2="535.20" y2="790.95" stroke="#000" stroke-width="1.5" />
<line x1="534.45" y1="790.20" x2="615.60" y2="790.20" stroke="#000" stroke-width="1.5" />
<line x1="530.20" y1="790.20" x2="535.20" y2="790.20" stroke="#000" stroke-width="1.5" />
<text x="522.07" y="795.10" font-size="10.80" font-weight="700" textLength="6.19" lengthAdjust="spacingAndGlyphs" fill="#000" >0</text>
<line x1="530.20" y1="760.00" x2="535.20" y2="760.00" stroke="#000" stroke-width="1.5" />
<text x="515.90" y="764.90" font-size="10.80" font-weight="700" textLength="12.37" lengthAdjust="spacingAndGlyphs" fill="#000" >50</text>
<line x1="530.20" y1="729.80" x2="535.20" y2="729.80" stroke="#000" stroke-width="1.5" />
<text x="509.72" y="734.70" font-size="10.80" font-weight="700" textLength="18.56" lengthAdjust="spacingAndGlyphs" fill="#000" >100</text>
<line x1="530.20" y1="699.60" x2="535.20" y2="699.60" stroke="#000" stroke-width="1.5" />
<text x="509.72" y="704.50" font-size="10.80" font-weight="700" textLength="18.56" lengthAdjust="spacingAndGlyphs" fill="#000" >150</text>
<line x1="530.20" y1="669.40" x2="535.20" y2="669.40" stroke="#000" stroke-width="1.5" />
<text x="509.72" y="674.30" font-size="10.80" font-weight="700" textLength="18.56" lengthAdjust="spacingAndGlyphs" fill="#000" >200</text>
<line x1="535.20" y1="790.20" x2="535.20" y2="794.20" stroke="#000" stroke-width="1.5" />
<text x="525.97" y="808.10" font-size="10.80" font-weight="700" textLength="18.56" lengthAdjust="spacingAndGlyphs" fill="#000" >200</text>
<line x1="575.40" y1="790.20" x2="575.40" y2="794.20" stroke="#000" stroke-width="1.5" />
<text x="566.22" y="808.10" font-size="10.80" font-weight="700" textLength="18.56" lengthAdjust="spacingAndGlyphs" fill="#000" >300</text>
<line x1="615.60" y1="790.20" x2="615.60" y2="794.20" stroke="#000" stroke-width="1.5" />
<text x="606.48" y="808.10" font-size="10.80" font-weight="700" textLength="18.56" lengthAdjust="spacingAndGlyphs" fill="#000" >400</text>
<text x="538.65" y="823.80" font-size="8.90" font-weight="700" textLength="73.95" lengthAdjust="spacingAndGlyphs" fill="#000" >Escape latency (s)</text>
<g transform="rotate(-90)"><text x="-761.00" y="487.60" font-size="10.60" font-weight="700" textLength="65.05" lengthAdjust="spacingAndGlyphs" fill="#000" >Spatial Acuity</text></g>
<g transform="rotate(-90)"><text x="-761.08" y="502.30" font-size="10.20" font-weight="700" textLength="64.75" lengthAdjust="spacingAndGlyphs" fill="#000" >Q4 (s) x ZB (s)</text></g>
<line x1="546.30" y1="700.20" x2="576.40" y2="700.20" stroke="#ff0000" stroke-width="1.4" />
<line x1="546.30" y1="697.60" x2="546.30" y2="702.80" stroke="#ff0000" stroke-width="1.4" />
<line x1="576.40" y1="697.60" x2="576.40" y2="702.80" stroke="#ff0000" stroke-width="1.4" />
<line x1="560.70" y1="692.10" x2="560.70" y2="708.20" stroke="#ff0000" stroke-width="1.4" />
<line x1="558.10" y1="692.10" x2="563.30" y2="692.10" stroke="#ff0000" stroke-width="1.4" />
<line x1="558.10" y1="708.20" x2="563.30" y2="708.20" stroke="#ff0000" stroke-width="1.4" />
<line x1="583.40" y1="738.40" x2="600.50" y2="738.40" stroke="#a00000" stroke-width="1.4" />
<line x1="583.40" y1="735.80" x2="583.40" y2="741.00" stroke="#a00000" stroke-width="1.4" />
<line x1="600.50" y1="735.80" x2="600.50" y2="741.00" stroke="#a00000" stroke-width="1.4" />
<line x1="542.60" y1="706.60" x2="573.00" y2="706.60" stroke="#0000ff" stroke-width="1.4" />
<line x1="542.60" y1="704.00" x2="542.60" y2="709.20" stroke="#0000ff" stroke-width="1.4" />
<line x1="573.00" y1="704.00" x2="573.00" y2="709.20" stroke="#0000ff" stroke-width="1.4" />
<line x1="557.90" y1="699.20" x2="557.90" y2="713.80" stroke="#0000ff" stroke-width="1.4" />
<line x1="555.30" y1="699.20" x2="560.50" y2="699.20" stroke="#0000ff" stroke-width="1.4" />
<line x1="555.30" y1="713.80" x2="560.50" y2="713.80" stroke="#0000ff" stroke-width="1.4" />
<line x1="575.40" y1="769.50" x2="600.50" y2="769.50" stroke="#00007c" stroke-width="1.4" />
<line x1="575.40" y1="766.90" x2="575.40" y2="772.10" stroke="#00007c" stroke-width="1.4" />
<line x1="600.50" y1="766.90" x2="600.50" y2="772.10" stroke="#00007c" stroke-width="1.4" />
<line x1="587.80" y1="766.50" x2="587.80" y2="774.10" stroke="#00007c" stroke-width="1.4" />
<line x1="585.20" y1="766.50" x2="590.40" y2="766.50" stroke="#00007c" stroke-width="1.4" />
<line x1="585.20" y1="774.10" x2="590.40" y2="774.10" stroke="#00007c" stroke-width="1.4" />
<circle cx="560.70" cy="700.20" r="3.19" fill="#ff0000"/>
<rect x="588.91" y="735.21" width="6.38" height="6.38" fill="#a00000"/>
<polygon points="557.90,702.64 561.86,709.57 553.94,709.57" fill="#0000ff"/>
<polygon points="587.80,773.46 591.76,766.53 583.84,766.53" fill="#00007c"/>
<circle cx="597.60" cy="668.90" r="3.19" fill="#ff0000"/>
<text x="611.88" y="672.10" font-size="9.00" font-weight="700" textLength="45.45" lengthAdjust="spacingAndGlyphs" fill="#000" >Adult male</text>
<rect x="594.41" y="681.81" width="6.38" height="6.38" fill="#a00000"/>
<text x="611.88" y="688.20" font-size="9.00" font-weight="700" textLength="43.74" lengthAdjust="spacingAndGlyphs" fill="#000" >Aged male</text>
<polygon points="597.60,697.04 601.56,703.97 593.64,703.97" fill="#0000ff"/>
<text x="611.88" y="704.30" font-size="9.00" font-weight="700" textLength="53.65" lengthAdjust="spacingAndGlyphs" fill="#000" >Adult female</text>
<polygon points="597.60,719.76 601.56,712.83 593.64,712.83" fill="#00007c"/>
<text x="611.88" y="718.70" font-size="9.00" font-weight="700" textLength="51.63" lengthAdjust="spacingAndGlyphs" fill="#000" >Aged female</text></svg></body></html>
